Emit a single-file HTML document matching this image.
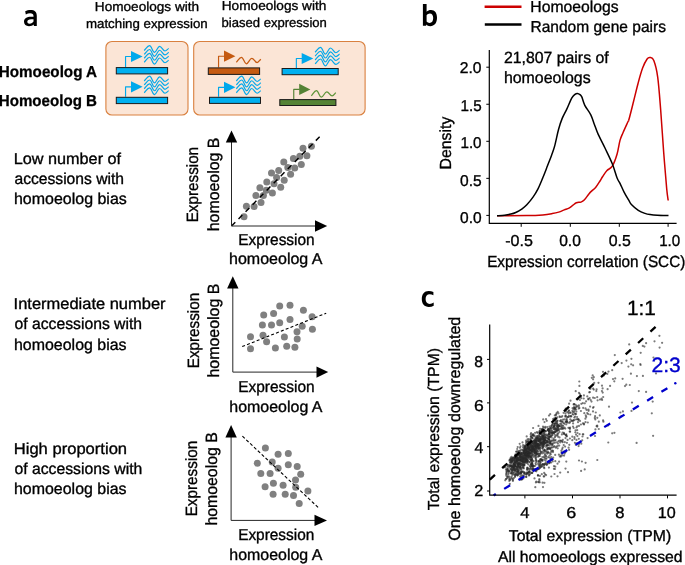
<!DOCTYPE html>
<html><head><meta charset="utf-8"><style>
html,body{margin:0;padding:0;background:#fff;width:685px;height:565px;overflow:hidden}
svg{display:block;will-change:transform}
text{font-family:"Liberation Sans",sans-serif;text-rendering:geometricPrecision}
</style></head><body>
<svg width="685" height="565" viewBox="0 0 685 565">
<rect width="685" height="565" fill="#fff"/>
<path fill="#000" fill-rule="evenodd" d="M25.2,11.3 C26.8,10.4 28.6,10.0 30.4,10.0 C34.7,10.0 36.8,11.9 36.8,15.8 L36.8,26.0 L33.9,26.0 L33.7,24.5 C32.6,25.6 31.0,26.2 29.0,26.2 C25.9,26.2 24.0,24.5 24.0,21.8 C24.0,18.4 26.8,16.8 31.0,16.8 L33.5,16.8 L33.5,16.1 C33.5,14.1 32.4,13.2 30.1,13.2 C28.6,13.2 27.2,13.6 25.8,14.4 Z M33.5,19.2 L31.3,19.2 C28.6,19.2 27.3,20.2 27.3,21.7 C27.3,23.0 28.2,23.7 29.6,23.7 C31.4,23.7 32.8,22.8 33.5,21.6 Z"/>
<text x="94.89" y="10.50" font-size="13.0" textLength="104.20" lengthAdjust="spacingAndGlyphs" fill="#000" stroke="#000" stroke-width="0.34">Homoeologs with</text>
<text x="86.02" y="27.70" font-size="13.0" textLength="121.64" lengthAdjust="spacingAndGlyphs" fill="#000" stroke="#000" stroke-width="0.34">matching expression</text>
<text x="221.78" y="9.80" font-size="13.0" textLength="104.60" lengthAdjust="spacingAndGlyphs" fill="#000" stroke="#000" stroke-width="0.34">Homoeologs with</text>
<text x="221.56" y="26.60" font-size="13.0" textLength="105.29" lengthAdjust="spacingAndGlyphs" fill="#000" stroke="#000" stroke-width="0.34">biased expression</text>
<text x="-1.21" y="76.50" font-size="15.9" textLength="98.31" lengthAdjust="spacingAndGlyphs" fill="#000" font-weight="bold" stroke="#000" stroke-width="0.3">Homoeolog A</text>
<text x="-1.21" y="105.60" font-size="15.9" textLength="98.20" lengthAdjust="spacingAndGlyphs" fill="#000" font-weight="bold" stroke="#000" stroke-width="0.3">Homoeolog B</text>
<rect x="105.9" y="41.5" width="82.1" height="73.5" rx="6" fill="#FBE5D6" stroke="#D9803F" stroke-width="1.1"/>
<rect x="193.7" y="41.5" width="171.4" height="73.5" rx="6" fill="#FBE5D6" stroke="#D9803F" stroke-width="1.1"/>
<path d="M125.55,67.10 V56.50 H131.50" fill="none" stroke="#00A8EB" stroke-width="1.15" stroke-linejoin="round"/>
<path d="M131.00,50.90 L142.60,56.50 L131.00,62.10 Z" fill="#00A8EB"/>
<path d="M144.20,50.50 C145.82,49.03 147.44,45.60 149.60,45.60 C151.56,45.60 152.54,52.40 154.50,52.40 C156.54,52.40 157.56,46.30 159.60,46.30 C161.76,46.30 162.84,51.00 165.00,51.00 C166.48,51.00 167.59,49.18 168.70,48.40" fill="none" stroke="#00A8EB" stroke-width="1.15"/>
<path d="M144.20,54.40 C145.82,52.93 147.44,49.50 149.60,49.50 C151.56,49.50 152.54,56.30 154.50,56.30 C156.54,56.30 157.56,50.20 159.60,50.20 C161.76,50.20 162.84,54.90 165.00,54.90 C166.48,54.90 167.59,53.08 168.70,52.30" fill="none" stroke="#00A8EB" stroke-width="1.15"/>
<path d="M144.20,58.30 C145.82,56.83 147.44,53.40 149.60,53.40 C151.56,53.40 152.54,60.20 154.50,60.20 C156.54,60.20 157.56,54.10 159.60,54.10 C161.76,54.10 162.84,58.80 165.00,58.80 C166.48,58.80 167.59,56.98 168.70,56.20" fill="none" stroke="#00A8EB" stroke-width="1.15"/>
<path d="M144.20,62.20 C145.82,60.73 147.44,57.30 149.60,57.30 C151.56,57.30 152.54,64.10 154.50,64.10 C156.54,64.10 157.56,58.00 159.60,58.00 C161.76,58.00 162.84,62.70 165.00,62.70 C166.48,62.70 167.59,60.88 168.70,60.10" fill="none" stroke="#00A8EB" stroke-width="1.15"/>
<rect x="116.30" y="67.60" width="51.30" height="6.30" fill="#00B0F0" stroke="#1a1a1a" stroke-width="1"/>
<path d="M125.55,96.80 V86.80 H131.50" fill="none" stroke="#00A8EB" stroke-width="1.15" stroke-linejoin="round"/>
<path d="M131.00,81.20 L142.60,86.80 L131.00,92.40 Z" fill="#00A8EB"/>
<path d="M144.20,81.00 C145.82,79.53 147.44,76.10 149.60,76.10 C151.56,76.10 152.54,82.90 154.50,82.90 C156.54,82.90 157.56,76.80 159.60,76.80 C161.76,76.80 162.84,81.50 165.00,81.50 C166.48,81.50 167.59,79.68 168.70,78.90" fill="none" stroke="#00A8EB" stroke-width="1.15"/>
<path d="M144.20,84.90 C145.82,83.43 147.44,80.00 149.60,80.00 C151.56,80.00 152.54,86.80 154.50,86.80 C156.54,86.80 157.56,80.70 159.60,80.70 C161.76,80.70 162.84,85.40 165.00,85.40 C166.48,85.40 167.59,83.58 168.70,82.80" fill="none" stroke="#00A8EB" stroke-width="1.15"/>
<path d="M144.20,88.80 C145.82,87.33 147.44,83.90 149.60,83.90 C151.56,83.90 152.54,90.70 154.50,90.70 C156.54,90.70 157.56,84.60 159.60,84.60 C161.76,84.60 162.84,89.30 165.00,89.30 C166.48,89.30 167.59,87.48 168.70,86.70" fill="none" stroke="#00A8EB" stroke-width="1.15"/>
<path d="M144.20,92.70 C145.82,91.23 147.44,87.80 149.60,87.80 C151.56,87.80 152.54,94.60 154.50,94.60 C156.54,94.60 157.56,88.50 159.60,88.50 C161.76,88.50 162.84,93.20 165.00,93.20 C166.48,93.20 167.59,91.38 168.70,90.60" fill="none" stroke="#00A8EB" stroke-width="1.15"/>
<rect x="116.30" y="97.30" width="51.30" height="6.30" fill="#00B0F0" stroke="#1a1a1a" stroke-width="1"/>
<path d="M218.55,67.40 V56.20 H224.50" fill="none" stroke="#C55A11" stroke-width="1.15" stroke-linejoin="round"/>
<path d="M224.00,50.60 L235.40,56.20 L224.00,61.80 Z" fill="#C55A11"/>
<path d="M236.30,62.30 C237.86,60.80 239.42,57.30 241.50,57.30 C243.42,57.30 244.38,63.80 246.30,63.80 C248.50,63.80 249.60,58.40 251.80,58.40 C253.92,58.40 254.98,62.50 257.10,62.50 C258.58,62.50 259.69,60.19 260.80,59.20" fill="none" stroke="#C55A11" stroke-width="1.25"/>
<rect x="208.30" y="67.90" width="51.30" height="6.50" fill="#C55A11" stroke="#1a1a1a" stroke-width="1"/>
<path d="M218.55,96.80 V87.30 H224.50" fill="none" stroke="#00A8EB" stroke-width="1.15" stroke-linejoin="round"/>
<path d="M224.00,81.70 L235.40,87.30 L224.00,92.90 Z" fill="#00A8EB"/>
<path d="M236.30,81.00 C237.92,79.53 239.54,76.10 241.70,76.10 C243.66,76.10 244.64,82.90 246.60,82.90 C248.64,82.90 249.66,76.80 251.70,76.80 C253.86,76.80 254.94,81.50 257.10,81.50 C258.58,81.50 259.69,79.68 260.80,78.90" fill="none" stroke="#00A8EB" stroke-width="1.15"/>
<path d="M236.30,84.90 C237.92,83.43 239.54,80.00 241.70,80.00 C243.66,80.00 244.64,86.80 246.60,86.80 C248.64,86.80 249.66,80.70 251.70,80.70 C253.86,80.70 254.94,85.40 257.10,85.40 C258.58,85.40 259.69,83.58 260.80,82.80" fill="none" stroke="#00A8EB" stroke-width="1.15"/>
<path d="M236.30,88.80 C237.92,87.33 239.54,83.90 241.70,83.90 C243.66,83.90 244.64,90.70 246.60,90.70 C248.64,90.70 249.66,84.60 251.70,84.60 C253.86,84.60 254.94,89.30 257.10,89.30 C258.58,89.30 259.69,87.48 260.80,86.70" fill="none" stroke="#00A8EB" stroke-width="1.15"/>
<path d="M236.30,92.70 C237.92,91.23 239.54,87.80 241.70,87.80 C243.66,87.80 244.64,94.60 246.60,94.60 C248.64,94.60 249.66,88.50 251.70,88.50 C253.86,88.50 254.94,93.20 257.10,93.20 C258.58,93.20 259.69,91.38 260.80,90.60" fill="none" stroke="#00A8EB" stroke-width="1.15"/>
<rect x="209.50" y="97.30" width="51.00" height="6.10" fill="#00B0F0" stroke="#1a1a1a" stroke-width="1"/>
<path d="M296.35,68.00 V58.50 H302.20" fill="none" stroke="#00A8EB" stroke-width="1.15" stroke-linejoin="round"/>
<path d="M301.70,52.90 L313.30,58.50 L301.70,64.10 Z" fill="#00A8EB"/>
<path d="M315.10,52.20 C316.72,50.73 318.34,47.30 320.50,47.30 C322.46,47.30 323.44,54.10 325.40,54.10 C327.44,54.10 328.46,48.00 330.50,48.00 C332.66,48.00 333.74,52.70 335.90,52.70 C337.38,52.70 338.49,50.88 339.60,50.10" fill="none" stroke="#00A8EB" stroke-width="1.15"/>
<path d="M315.10,56.10 C316.72,54.63 318.34,51.20 320.50,51.20 C322.46,51.20 323.44,58.00 325.40,58.00 C327.44,58.00 328.46,51.90 330.50,51.90 C332.66,51.90 333.74,56.60 335.90,56.60 C337.38,56.60 338.49,54.78 339.60,54.00" fill="none" stroke="#00A8EB" stroke-width="1.15"/>
<path d="M315.10,60.00 C316.72,58.53 318.34,55.10 320.50,55.10 C322.46,55.10 323.44,61.90 325.40,61.90 C327.44,61.90 328.46,55.80 330.50,55.80 C332.66,55.80 333.74,60.50 335.90,60.50 C337.38,60.50 338.49,58.68 339.60,57.90" fill="none" stroke="#00A8EB" stroke-width="1.15"/>
<path d="M315.10,63.90 C316.72,62.43 318.34,59.00 320.50,59.00 C322.46,59.00 323.44,65.80 325.40,65.80 C327.44,65.80 328.46,59.70 330.50,59.70 C332.66,59.70 333.74,64.40 335.90,64.40 C337.38,64.40 338.49,62.58 339.60,61.80" fill="none" stroke="#00A8EB" stroke-width="1.15"/>
<rect x="282.10" y="68.50" width="56.10" height="6.20" fill="#00B0F0" stroke="#1a1a1a" stroke-width="1"/>
<path d="M293.75,99.10 V89.40 H299.70" fill="none" stroke="#548235" stroke-width="1.15" stroke-linejoin="round"/>
<path d="M299.20,83.80 L310.40,89.40 L299.20,95.00 Z" fill="#548235"/>
<path d="M311.30,95.70 C312.86,94.20 314.42,90.70 316.50,90.70 C318.42,90.70 319.38,97.20 321.30,97.20 C323.50,97.20 324.60,91.80 326.80,91.80 C328.92,91.80 329.98,95.90 332.10,95.90 C333.58,95.90 334.69,93.59 335.80,92.60" fill="none" stroke="#5E9438" stroke-width="1.25"/>
<rect x="279.80" y="99.60" width="56.10" height="5.90" fill="#548235" stroke="#1a1a1a" stroke-width="1"/>
<text x="13.77" y="164.20" font-size="15.8" textLength="107.31" lengthAdjust="spacingAndGlyphs" fill="#000" stroke="#000" stroke-width="0.34">Low number of</text>
<text x="14.44" y="184.00" font-size="15.8" textLength="109.58" lengthAdjust="spacingAndGlyphs" fill="#000" stroke="#000" stroke-width="0.34">accessions with</text>
<text x="13.99" y="203.90" font-size="15.8" textLength="112.78" lengthAdjust="spacingAndGlyphs" fill="#000" stroke="#000" stroke-width="0.34">homoeolog bias</text>
<text x="13.58" y="309.00" font-size="15.8" textLength="151.99" lengthAdjust="spacingAndGlyphs" fill="#000" stroke="#000" stroke-width="0.34">Intermediate number</text>
<text x="14.44" y="329.40" font-size="15.8" textLength="127.68" lengthAdjust="spacingAndGlyphs" fill="#000" stroke="#000" stroke-width="0.34">of accessions with</text>
<text x="13.99" y="349.60" font-size="15.8" textLength="112.58" lengthAdjust="spacingAndGlyphs" fill="#000" stroke="#000" stroke-width="0.34">homoeolog bias</text>
<text x="13.74" y="453.50" font-size="15.8" textLength="113.34" lengthAdjust="spacingAndGlyphs" fill="#000" stroke="#000" stroke-width="0.34">High proportion</text>
<text x="14.44" y="473.60" font-size="15.8" textLength="127.89" lengthAdjust="spacingAndGlyphs" fill="#000" stroke="#000" stroke-width="0.34">of accessions with</text>
<text x="13.99" y="494.10" font-size="15.8" textLength="112.58" lengthAdjust="spacingAndGlyphs" fill="#000" stroke="#000" stroke-width="0.34">homoeolog bias</text>
<g fill="#808080"><circle cx="244" cy="216.8" r="3.5"/><circle cx="246.4" cy="206.2" r="3.5"/><circle cx="254.1" cy="206.6" r="3.5"/><circle cx="261" cy="202.4" r="3.5"/><circle cx="255.9" cy="195.4" r="3.5"/><circle cx="263.4" cy="195.4" r="3.5"/><circle cx="259.9" cy="187.8" r="3.5"/><circle cx="266.8" cy="182" r="3.5"/><circle cx="266.3" cy="190.3" r="3.5"/><circle cx="272.4" cy="193.1" r="3.5"/><circle cx="274" cy="183.8" r="3.5"/><circle cx="280.7" cy="187.3" r="3.5"/><circle cx="284.2" cy="180.2" r="3.5"/><circle cx="276.6" cy="177.5" r="3.5"/><circle cx="271.5" cy="173" r="3.5"/><circle cx="278.7" cy="170.6" r="3.5"/><circle cx="283.8" cy="162.1" r="3.5"/><circle cx="287.8" cy="167.4" r="3.5"/><circle cx="294.7" cy="168.1" r="3.5"/><circle cx="290.6" cy="174.3" r="3.5"/><circle cx="301.3" cy="164.5" r="3.5"/><circle cx="293.4" cy="158.6" r="3.5"/><circle cx="299.8" cy="156.2" r="3.5"/><circle cx="306.9" cy="155.7" r="3.5"/><circle cx="303" cy="148.3" r="3.5"/><circle cx="311.4" cy="146.2" r="3.5"/></g>
<path d="M231.5,226.0 L320.9,135.5" stroke="#000" stroke-width="1.45" stroke-dasharray="5.4 4.6" fill="none"/>
<path d="M231.50,226.00 V141.90 M231.50,226.00 H315.50" fill="none" stroke="#262626" stroke-width="1"/>
<path d="M225.80,142.40 L231.50,130.60 L237.20,142.40 Z" fill="#000"/>
<path d="M315.00,220.30 L327.20,226.00 L315.00,231.70 Z" fill="#000"/>
<g fill="#808080"><circle cx="279.7" cy="305.9" r="3.5"/><circle cx="290" cy="305.3" r="3.5"/><circle cx="303.4" cy="310.2" r="3.5"/><circle cx="263.7" cy="315.1" r="3.5"/><circle cx="273.6" cy="313.5" r="3.5"/><circle cx="290" cy="319.5" r="3.5"/><circle cx="312.1" cy="316.8" r="3.5"/><circle cx="262.4" cy="325.1" r="3.5"/><circle cx="271.5" cy="325.1" r="3.5"/><circle cx="279.7" cy="322.8" r="3.5"/><circle cx="302.2" cy="326.3" r="3.5"/><circle cx="312.4" cy="329.2" r="3.5"/><circle cx="297" cy="331.8" r="3.5"/><circle cx="250.5" cy="336.8" r="3.5"/><circle cx="263" cy="335.3" r="3.5"/><circle cx="284.4" cy="337" r="3.5"/><circle cx="297.2" cy="339.1" r="3.5"/><circle cx="266.6" cy="341.7" r="3.5"/><circle cx="250.5" cy="348.7" r="3.5"/><circle cx="275.4" cy="348.1" r="3.5"/><circle cx="286.7" cy="346.2" r="3.5"/><circle cx="294.9" cy="347.2" r="3.5"/></g>
<path d="M242.2,346.6 L326.2,313.2" stroke="#000" stroke-width="1.1" stroke-dasharray="3.0 2.2" fill="none"/>
<path d="M232.80,372.10 V288.00 M232.80,372.10 H317.00" fill="none" stroke="#262626" stroke-width="1"/>
<path d="M227.10,288.50 L232.80,276.20 L238.50,288.50 Z" fill="#000"/>
<path d="M316.50,366.40 L328.20,372.10 L316.50,377.80 Z" fill="#000"/>
<g fill="#808080"><circle cx="265.4" cy="448" r="3.5"/><circle cx="278.1" cy="454.2" r="3.5"/><circle cx="288.3" cy="453.6" r="3.5"/><circle cx="257.3" cy="463.3" r="3.5"/><circle cx="272.2" cy="462" r="3.5"/><circle cx="288.3" cy="464.8" r="3.5"/><circle cx="297.2" cy="466.6" r="3.5"/><circle cx="278.1" cy="468.2" r="3.5"/><circle cx="260.8" cy="473.4" r="3.5"/><circle cx="270.1" cy="473.4" r="3.5"/><circle cx="300.7" cy="474.3" r="3.5"/><circle cx="295.5" cy="480" r="3.5"/><circle cx="273.4" cy="483.3" r="3.5"/><circle cx="265.1" cy="486.8" r="3.5"/><circle cx="283.1" cy="485.2" r="3.5"/><circle cx="295.7" cy="487.3" r="3.5"/><circle cx="307.9" cy="491.1" r="3.5"/><circle cx="273.1" cy="494.2" r="3.5"/><circle cx="285.2" cy="494.2" r="3.5"/><circle cx="293.5" cy="495.4" r="3.5"/><circle cx="299.2" cy="503.4" r="3.5"/></g>
<path d="M242.4,436.2 L318.3,507.6" stroke="#000" stroke-width="1.1" stroke-dasharray="3.2 2.1" fill="none"/>
<path d="M231.10,520.40 V436.90 M231.10,520.40 H315.00" fill="none" stroke="#262626" stroke-width="1"/>
<path d="M225.40,437.40 L231.10,425.10 L236.80,437.40 Z" fill="#000"/>
<path d="M314.50,514.70 L327.00,520.40 L314.50,526.10 Z" fill="#000"/>
<text x="238.33" y="244.75" font-size="15.8" textLength="76.37" lengthAdjust="spacingAndGlyphs" fill="#000" stroke="#000" stroke-width="0.34">Expression</text>
<text x="229.00" y="264.40" font-size="15.8" textLength="93.53" lengthAdjust="spacingAndGlyphs" fill="#000" stroke="#000" stroke-width="0.34">homoeolog A</text>
<text transform="translate(198.20,222.30) rotate(-90)" x="0" y="0" font-size="16.3" textLength="75.39" lengthAdjust="spacingAndGlyphs" fill="#000" stroke="#000" stroke-width="0.34">Expression</text>
<text transform="translate(219.00,231.30) rotate(-90)" x="0" y="0" font-size="16.3" textLength="93.74" lengthAdjust="spacingAndGlyphs" fill="#000" stroke="#000" stroke-width="0.34">homoeolog B</text>
<text x="238.13" y="391.60" font-size="15.8" textLength="76.58" lengthAdjust="spacingAndGlyphs" fill="#000" stroke="#000" stroke-width="0.34">Expression</text>
<text x="229.30" y="411.60" font-size="15.8" textLength="93.23" lengthAdjust="spacingAndGlyphs" fill="#000" stroke="#000" stroke-width="0.34">homoeolog A</text>
<text transform="translate(198.70,368.15) rotate(-90)" x="0" y="0" font-size="16.3" textLength="75.24" lengthAdjust="spacingAndGlyphs" fill="#000" stroke="#000" stroke-width="0.34">Expression</text>
<text transform="translate(219.00,377.61) rotate(-90)" x="0" y="0" font-size="16.3" textLength="94.05" lengthAdjust="spacingAndGlyphs" fill="#000" stroke="#000" stroke-width="0.34">homoeolog B</text>
<text x="238.14" y="540.30" font-size="15.8" textLength="76.16" lengthAdjust="spacingAndGlyphs" fill="#000" stroke="#000" stroke-width="0.34">Expression</text>
<text x="229.31" y="560.00" font-size="15.8" textLength="93.03" lengthAdjust="spacingAndGlyphs" fill="#000" stroke="#000" stroke-width="0.34">homoeolog A</text>
<text transform="translate(197.00,516.35) rotate(-90)" x="0" y="0" font-size="16.3" textLength="75.65" lengthAdjust="spacingAndGlyphs" fill="#000" stroke="#000" stroke-width="0.34">Expression</text>
<text transform="translate(217.00,525.50) rotate(-90)" x="0" y="0" font-size="16.3" textLength="93.23" lengthAdjust="spacingAndGlyphs" fill="#000" stroke="#000" stroke-width="0.34">homoeolog B</text>
<path fill="#000" fill-rule="evenodd" d="M422.9,4.0 L426.6,4.0 L426.6,11.8 C427.7,10.6 429.2,10.0 431.0,10.0 C434.9,10.0 437.0,13.0 437.0,17.8 C437.0,23.0 434.4,26.2 430.2,26.2 C428.5,26.2 427.2,25.6 426.3,24.6 L426.1,25.8 L422.9,25.8 Z M426.6,15.2 C427.4,14.1 428.5,13.4 429.8,13.4 C432.0,13.4 433.2,15.1 433.2,18.0 C433.2,21.2 431.8,22.9 429.6,22.9 C428.3,22.9 427.3,22.4 426.6,21.6 Z"/>
<path d="M484.6,6.8 H521.5" stroke="#CC0000" stroke-width="2.6"/>
<path d="M484.8,24.5 H521.5" stroke="#000" stroke-width="2.6"/>
<text x="530.31" y="11.80" font-size="15.9" textLength="88.26" lengthAdjust="spacingAndGlyphs" fill="#000" stroke="#000" stroke-width="0.34">Homoeologs</text>
<text x="530.43" y="31.90" font-size="15.9" textLength="135.54" lengthAdjust="spacingAndGlyphs" fill="#000" stroke="#000" stroke-width="0.34">Random gene pairs</text>
<text x="503.90" y="62.80" font-size="16.2" textLength="104.77" lengthAdjust="spacingAndGlyphs" fill="#000" stroke="#000" stroke-width="0.34">21,807 pairs of</text>
<text x="503.90" y="82.50" font-size="16.2" textLength="86.78" lengthAdjust="spacingAndGlyphs" fill="#000" stroke="#000" stroke-width="0.34">homoeologs</text>
<path d="M489.3,50 V223.4 H676.6" fill="none" stroke="#000" stroke-width="1.2"/>
<path d="M486.3,215.4 H489.3" stroke="#000" stroke-width="1"/>
<text x="459.99" y="223.10" font-size="15.7" textLength="21.61" lengthAdjust="spacingAndGlyphs" fill="#000" stroke="#000" stroke-width="0.34">0.0</text>
<path d="M486.3,178.35 H489.3" stroke="#000" stroke-width="1"/>
<text x="459.99" y="185.70" font-size="15.7" textLength="21.66" lengthAdjust="spacingAndGlyphs" fill="#000" stroke="#000" stroke-width="0.34">0.5</text>
<path d="M486.3,141.3 H489.3" stroke="#000" stroke-width="1"/>
<text x="460.44" y="148.10" font-size="15.7" textLength="21.15" lengthAdjust="spacingAndGlyphs" fill="#000" stroke="#000" stroke-width="0.34">1.0</text>
<path d="M486.3,104.25 H489.3" stroke="#000" stroke-width="1"/>
<text x="460.44" y="110.50" font-size="15.7" textLength="21.20" lengthAdjust="spacingAndGlyphs" fill="#000" stroke="#000" stroke-width="0.34">1.5</text>
<path d="M486.3,67.2 H489.3" stroke="#000" stroke-width="1"/>
<text x="459.81" y="72.90" font-size="15.7" textLength="21.80" lengthAdjust="spacingAndGlyphs" fill="#000" stroke="#000" stroke-width="0.34">2.0</text>
<path d="M521.2,223.4 V226.8" stroke="#000" stroke-width="1"/>
<text x="505.19" y="245.60" font-size="15.9" textLength="27.69" lengthAdjust="spacingAndGlyphs" fill="#000" stroke="#000" stroke-width="0.34">-0.5</text>
<path d="M570.3,223.4 V226.8" stroke="#000" stroke-width="1"/>
<text x="559.19" y="245.60" font-size="15.9" textLength="21.61" lengthAdjust="spacingAndGlyphs" fill="#000" stroke="#000" stroke-width="0.34">0.0</text>
<path d="M619.3,223.4 V226.8" stroke="#000" stroke-width="1"/>
<text x="608.68" y="245.60" font-size="15.9" textLength="22.09" lengthAdjust="spacingAndGlyphs" fill="#000" stroke="#000" stroke-width="0.34">0.5</text>
<path d="M668.1,223.4 V226.8" stroke="#000" stroke-width="1"/>
<text x="659.15" y="245.60" font-size="15.9" textLength="21.04" lengthAdjust="spacingAndGlyphs" fill="#000" stroke="#000" stroke-width="0.34">1.0</text>
<text transform="translate(451.30,169.40) rotate(-90)" x="0" y="0" font-size="16.1" textLength="52.73" lengthAdjust="spacingAndGlyphs" fill="#000" stroke="#000" stroke-width="0.34">Density</text>
<text x="487.14" y="267.00" font-size="16.1" textLength="198.20" lengthAdjust="spacingAndGlyphs" fill="#000" stroke="#000" stroke-width="0.34">Expression correlation (SCC)</text>
<path d="M497.00,215.70 C501.97,215.68 519.17,215.73 526.80,215.60 C534.43,215.47 538.55,215.23 542.80,214.90 C547.05,214.57 549.65,214.07 552.30,213.60 C554.95,213.13 556.70,212.72 558.70,212.10 C560.70,211.48 562.58,210.57 564.30,209.90 C566.02,209.23 567.55,208.88 569.00,208.10 C570.45,207.32 571.77,206.10 573.00,205.20 C574.23,204.30 575.07,203.22 576.40,202.70 C577.73,202.18 579.70,202.53 581.00,202.10 C582.30,201.67 582.88,201.47 584.20,200.10 C585.52,198.73 587.58,195.48 588.90,193.90 C590.22,192.32 590.98,191.65 592.10,190.60 C593.22,189.55 594.28,189.20 595.60,187.60 C596.92,186.00 598.82,182.85 600.00,181.00 C601.18,179.15 601.53,178.25 602.70,176.50 C603.87,174.75 605.40,172.22 607.00,170.50 C608.60,168.78 610.62,168.95 612.30,166.20 C613.98,163.45 615.82,158.30 617.10,154.00 C618.38,149.70 619.02,143.95 620.00,140.40 C620.98,136.85 621.70,135.77 623.00,132.70 C624.30,129.63 626.80,124.23 627.80,122.00 C628.80,119.77 628.03,122.75 629.00,119.30 C629.97,115.85 632.08,107.32 633.60,101.30 C635.12,95.28 636.60,88.73 638.10,83.20 C639.60,77.67 641.10,72.13 642.60,68.10 C644.10,64.07 645.85,60.77 647.10,59.00 C648.35,57.23 648.98,57.23 650.10,57.50 C651.22,57.77 652.53,57.33 653.80,60.60 C655.07,63.87 656.55,68.82 657.70,77.10 C658.85,85.38 659.70,97.73 660.70,110.30 C661.70,122.87 662.70,139.43 663.70,152.50 C664.70,165.57 665.95,180.70 666.70,188.70 C667.45,196.70 667.95,198.53 668.20,200.50" fill="none" stroke="#CC0000" stroke-width="1.5" stroke-linejoin="round"/>
<path d="M497.00,215.70 C498.27,215.62 502.28,215.47 504.60,215.20 C506.92,214.93 509.05,214.55 510.90,214.10 C512.75,213.65 513.83,213.38 515.70,212.50 C517.57,211.62 520.25,210.08 522.10,208.80 C523.95,207.52 524.95,206.78 526.80,204.80 C528.65,202.82 531.33,199.55 533.20,196.90 C535.07,194.25 536.40,192.08 538.00,188.90 C539.60,185.72 541.22,181.65 542.80,177.80 C544.38,173.95 546.05,169.52 547.50,165.80 C548.95,162.08 550.30,158.82 551.50,155.50 C552.70,152.18 553.52,150.28 554.70,145.90 C555.88,141.52 557.35,133.78 558.60,129.20 C559.85,124.62 560.82,121.78 562.20,118.40 C563.58,115.02 565.32,112.28 566.90,108.90 C568.48,105.52 570.35,100.53 571.70,98.10 C573.05,95.67 574.05,95.08 575.00,94.30 C575.95,93.52 576.57,93.35 577.40,93.40 C578.23,93.45 579.27,94.02 580.00,94.60 C580.73,95.18 581.00,95.12 581.80,96.90 C582.60,98.68 583.30,102.32 584.80,105.30 C586.30,108.28 589.20,111.62 590.80,114.80 C592.40,117.98 593.20,121.22 594.40,124.40 C595.60,127.58 596.22,129.92 598.00,133.90 C599.78,137.88 602.72,143.32 605.10,148.30 C607.48,153.28 610.30,158.83 612.30,163.80 C614.30,168.77 615.82,174.85 617.10,178.10 C618.38,181.35 618.82,180.92 620.00,183.30 C621.18,185.68 622.70,189.50 624.20,192.40 C625.70,195.30 627.80,198.70 629.00,200.70 C630.20,202.70 629.85,202.80 631.40,204.40 C632.95,206.00 636.03,208.80 638.30,210.30 C640.57,211.80 643.03,212.68 645.00,213.40 C646.97,214.12 648.03,214.28 650.10,214.60 C652.17,214.92 654.33,215.13 657.40,215.30 C660.47,215.47 666.65,215.55 668.50,215.60" fill="none" stroke="#000" stroke-width="1.5" stroke-linejoin="round"/>
<path fill="#000" d="M433.4,292.0 C432.0,291.4 430.4,291.1 428.7,291.1 C424.3,291.1 421.8,294.2 421.8,299.1 C421.8,304.0 424.4,307.0 428.8,307.0 C430.6,307.0 432.2,306.6 433.7,305.8 L433.7,302.6 C432.5,303.4 431.2,303.9 429.7,303.9 C427.1,303.9 425.6,302.0 425.6,299.0 C425.6,296.0 427.1,294.2 429.6,294.2 C431.0,294.2 432.3,294.6 433.4,295.3 Z"/>
<g fill="#2a2a2a" fill-opacity="0.62"><circle cx="532.0" cy="459.6" r="1.1"/><circle cx="536.6" cy="453.2" r="1.1"/><circle cx="550.2" cy="432.6" r="1.1"/><circle cx="544.3" cy="464.4" r="1.1"/><circle cx="554.3" cy="418.3" r="1.1"/><circle cx="533.5" cy="456.8" r="1.1"/><circle cx="548.0" cy="448.2" r="1.1"/><circle cx="549.2" cy="431.7" r="1.1"/><circle cx="528.2" cy="464.3" r="1.1"/><circle cx="564.1" cy="455.6" r="1.1"/><circle cx="579.0" cy="460.5" r="1.1"/><circle cx="509.4" cy="476.5" r="1.1"/><circle cx="548.6" cy="430.9" r="1.1"/><circle cx="552.2" cy="445.6" r="1.1"/><circle cx="509.3" cy="465.4" r="1.1"/><circle cx="542.5" cy="436.9" r="1.1"/><circle cx="503.9" cy="467.3" r="1.1"/><circle cx="516.0" cy="475.0" r="1.1"/><circle cx="510.5" cy="466.0" r="1.1"/><circle cx="511.7" cy="462.4" r="1.1"/><circle cx="542.5" cy="430.0" r="1.1"/><circle cx="563.7" cy="422.9" r="1.1"/><circle cx="555.6" cy="428.5" r="1.1"/><circle cx="595.3" cy="419.4" r="1.1"/><circle cx="566.9" cy="442.8" r="1.1"/><circle cx="581.2" cy="398.2" r="1.1"/><circle cx="519.5" cy="457.2" r="1.1"/><circle cx="542.4" cy="460.9" r="1.1"/><circle cx="533.8" cy="435.9" r="1.1"/><circle cx="525.8" cy="461.1" r="1.1"/><circle cx="557.7" cy="411.9" r="1.1"/><circle cx="547.2" cy="453.7" r="1.1"/><circle cx="543.1" cy="442.2" r="1.1"/><circle cx="597.3" cy="417.8" r="1.1"/><circle cx="568.9" cy="415.9" r="1.1"/><circle cx="543.9" cy="446.1" r="1.1"/><circle cx="522.8" cy="467.0" r="1.1"/><circle cx="544.0" cy="442.2" r="1.1"/><circle cx="553.9" cy="426.4" r="1.1"/><circle cx="518.2" cy="452.8" r="1.1"/><circle cx="548.3" cy="452.6" r="1.1"/><circle cx="544.5" cy="422.1" r="1.1"/><circle cx="567.6" cy="439.9" r="1.1"/><circle cx="516.1" cy="460.2" r="1.1"/><circle cx="526.9" cy="452.2" r="1.1"/><circle cx="528.1" cy="446.1" r="1.1"/><circle cx="534.0" cy="444.1" r="1.1"/><circle cx="559.2" cy="425.9" r="1.1"/><circle cx="517.2" cy="457.8" r="1.1"/><circle cx="545.8" cy="442.9" r="1.1"/><circle cx="545.6" cy="440.6" r="1.1"/><circle cx="532.4" cy="447.8" r="1.1"/><circle cx="554.9" cy="431.9" r="1.1"/><circle cx="520.6" cy="478.3" r="1.1"/><circle cx="517.0" cy="458.2" r="1.1"/><circle cx="526.4" cy="453.9" r="1.1"/><circle cx="583.3" cy="434.3" r="1.1"/><circle cx="622.6" cy="378.8" r="1.1"/><circle cx="543.2" cy="430.9" r="1.1"/><circle cx="530.1" cy="459.6" r="1.1"/><circle cx="535.4" cy="469.9" r="1.1"/><circle cx="552.2" cy="434.4" r="1.1"/><circle cx="550.8" cy="444.0" r="1.1"/><circle cx="608.3" cy="442.5" r="1.1"/><circle cx="518.8" cy="459.4" r="1.1"/><circle cx="568.7" cy="416.9" r="1.1"/><circle cx="539.3" cy="432.2" r="1.1"/><circle cx="597.2" cy="425.5" r="1.1"/><circle cx="538.7" cy="469.1" r="1.1"/><circle cx="595.8" cy="412.5" r="1.1"/><circle cx="572.5" cy="414.1" r="1.1"/><circle cx="538.5" cy="468.9" r="1.1"/><circle cx="522.3" cy="457.5" r="1.1"/><circle cx="524.4" cy="464.8" r="1.1"/><circle cx="528.2" cy="448.6" r="1.1"/><circle cx="513.5" cy="467.7" r="1.1"/><circle cx="515.2" cy="455.3" r="1.1"/><circle cx="517.7" cy="463.7" r="1.1"/><circle cx="537.2" cy="437.6" r="1.1"/><circle cx="552.3" cy="430.5" r="1.1"/><circle cx="579.4" cy="408.0" r="1.1"/><circle cx="565.6" cy="435.0" r="1.1"/><circle cx="562.5" cy="455.4" r="1.1"/><circle cx="521.3" cy="473.1" r="1.1"/><circle cx="524.0" cy="461.8" r="1.1"/><circle cx="536.8" cy="448.9" r="1.1"/><circle cx="540.1" cy="464.3" r="1.1"/><circle cx="523.4" cy="450.9" r="1.1"/><circle cx="530.2" cy="442.9" r="1.1"/><circle cx="533.4" cy="446.9" r="1.1"/><circle cx="631.2" cy="364.3" r="1.1"/><circle cx="529.7" cy="447.8" r="1.1"/><circle cx="536.4" cy="445.5" r="1.1"/><circle cx="656.0" cy="373.4" r="1.1"/><circle cx="544.3" cy="468.2" r="1.1"/><circle cx="609.0" cy="406.7" r="1.1"/><circle cx="584.0" cy="424.4" r="1.1"/><circle cx="546.0" cy="430.9" r="1.1"/><circle cx="534.7" cy="451.2" r="1.1"/><circle cx="546.6" cy="445.3" r="1.1"/><circle cx="538.0" cy="475.3" r="1.1"/><circle cx="584.7" cy="469.4" r="1.1"/><circle cx="556.6" cy="435.3" r="1.1"/><circle cx="532.2" cy="449.3" r="1.1"/><circle cx="539.9" cy="475.9" r="1.1"/><circle cx="554.5" cy="425.4" r="1.1"/><circle cx="534.6" cy="446.8" r="1.1"/><circle cx="578.5" cy="419.7" r="1.1"/><circle cx="529.4" cy="458.6" r="1.1"/><circle cx="515.3" cy="462.6" r="1.1"/><circle cx="555.2" cy="431.9" r="1.1"/><circle cx="574.2" cy="404.4" r="1.1"/><circle cx="552.7" cy="444.3" r="1.1"/><circle cx="540.6" cy="453.6" r="1.1"/><circle cx="537.1" cy="443.8" r="1.1"/><circle cx="549.4" cy="439.6" r="1.1"/><circle cx="565.9" cy="451.6" r="1.1"/><circle cx="549.4" cy="436.5" r="1.1"/><circle cx="544.0" cy="440.9" r="1.1"/><circle cx="546.5" cy="458.7" r="1.1"/><circle cx="523.4" cy="476.2" r="1.1"/><circle cx="537.6" cy="450.9" r="1.1"/><circle cx="553.8" cy="447.1" r="1.1"/><circle cx="534.9" cy="445.2" r="1.1"/><circle cx="582.8" cy="434.3" r="1.1"/><circle cx="532.2" cy="462.4" r="1.1"/><circle cx="523.7" cy="452.7" r="1.1"/><circle cx="531.8" cy="460.3" r="1.1"/><circle cx="512.1" cy="465.9" r="1.1"/><circle cx="548.9" cy="439.0" r="1.1"/><circle cx="543.2" cy="439.6" r="1.1"/><circle cx="527.4" cy="461.0" r="1.1"/><circle cx="551.9" cy="433.0" r="1.1"/><circle cx="576.0" cy="434.6" r="1.1"/><circle cx="525.9" cy="451.5" r="1.1"/><circle cx="523.5" cy="462.3" r="1.1"/><circle cx="528.2" cy="447.6" r="1.1"/><circle cx="569.5" cy="428.1" r="1.1"/><circle cx="507.2" cy="477.9" r="1.1"/><circle cx="511.6" cy="469.3" r="1.1"/><circle cx="545.2" cy="426.8" r="1.1"/><circle cx="542.3" cy="445.8" r="1.1"/><circle cx="525.3" cy="462.8" r="1.1"/><circle cx="556.3" cy="414.3" r="1.1"/><circle cx="535.4" cy="449.3" r="1.1"/><circle cx="573.7" cy="420.4" r="1.1"/><circle cx="539.1" cy="455.8" r="1.1"/><circle cx="532.5" cy="442.8" r="1.1"/><circle cx="530.6" cy="450.4" r="1.1"/><circle cx="517.8" cy="465.3" r="1.1"/><circle cx="532.3" cy="472.7" r="1.1"/><circle cx="521.3" cy="464.7" r="1.1"/><circle cx="512.4" cy="475.2" r="1.1"/><circle cx="522.3" cy="455.2" r="1.1"/><circle cx="547.2" cy="441.0" r="1.1"/><circle cx="568.4" cy="412.4" r="1.1"/><circle cx="535.1" cy="432.8" r="1.1"/><circle cx="527.7" cy="468.4" r="1.1"/><circle cx="534.3" cy="450.0" r="1.1"/><circle cx="540.9" cy="443.9" r="1.1"/><circle cx="527.8" cy="461.1" r="1.1"/><circle cx="520.8" cy="456.7" r="1.1"/><circle cx="514.5" cy="462.4" r="1.1"/><circle cx="534.5" cy="478.4" r="1.1"/><circle cx="560.8" cy="440.5" r="1.1"/><circle cx="554.9" cy="440.6" r="1.1"/><circle cx="526.8" cy="454.1" r="1.1"/><circle cx="550.8" cy="459.0" r="1.1"/><circle cx="594.2" cy="382.9" r="1.1"/><circle cx="522.7" cy="461.4" r="1.1"/><circle cx="553.0" cy="450.8" r="1.1"/><circle cx="526.9" cy="454.3" r="1.1"/><circle cx="527.0" cy="469.4" r="1.1"/><circle cx="509.8" cy="459.7" r="1.1"/><circle cx="550.8" cy="459.6" r="1.1"/><circle cx="567.0" cy="421.5" r="1.1"/><circle cx="518.6" cy="473.5" r="1.1"/><circle cx="525.3" cy="454.9" r="1.1"/><circle cx="575.9" cy="419.5" r="1.1"/><circle cx="659.4" cy="335.8" r="1.1"/><circle cx="526.4" cy="460.0" r="1.1"/><circle cx="554.8" cy="420.4" r="1.1"/><circle cx="527.3" cy="473.6" r="1.1"/><circle cx="527.5" cy="452.2" r="1.1"/><circle cx="541.2" cy="438.1" r="1.1"/><circle cx="538.8" cy="465.3" r="1.1"/><circle cx="538.1" cy="463.9" r="1.1"/><circle cx="525.2" cy="461.7" r="1.1"/><circle cx="527.2" cy="455.9" r="1.1"/><circle cx="588.1" cy="414.1" r="1.1"/><circle cx="540.5" cy="459.3" r="1.1"/><circle cx="561.4" cy="423.5" r="1.1"/><circle cx="516.6" cy="456.7" r="1.1"/><circle cx="545.5" cy="440.1" r="1.1"/><circle cx="526.3" cy="476.9" r="1.1"/><circle cx="519.4" cy="457.2" r="1.1"/><circle cx="527.1" cy="456.4" r="1.1"/><circle cx="539.9" cy="468.1" r="1.1"/><circle cx="544.2" cy="472.9" r="1.1"/><circle cx="534.0" cy="451.0" r="1.1"/><circle cx="602.6" cy="388.4" r="1.1"/><circle cx="566.4" cy="435.9" r="1.1"/><circle cx="538.0" cy="448.4" r="1.1"/><circle cx="566.1" cy="421.3" r="1.1"/><circle cx="564.8" cy="442.2" r="1.1"/><circle cx="539.9" cy="456.0" r="1.1"/><circle cx="532.1" cy="437.3" r="1.1"/><circle cx="537.2" cy="439.3" r="1.1"/><circle cx="531.1" cy="433.2" r="1.1"/><circle cx="625.0" cy="386.1" r="1.1"/><circle cx="553.8" cy="439.9" r="1.1"/><circle cx="550.7" cy="428.1" r="1.1"/><circle cx="526.1" cy="443.0" r="1.1"/><circle cx="530.3" cy="473.6" r="1.1"/><circle cx="523.8" cy="451.0" r="1.1"/><circle cx="534.6" cy="452.8" r="1.1"/><circle cx="526.7" cy="436.4" r="1.1"/><circle cx="514.5" cy="474.7" r="1.1"/><circle cx="630.9" cy="373.7" r="1.1"/><circle cx="533.7" cy="461.1" r="1.1"/><circle cx="517.2" cy="458.0" r="1.1"/><circle cx="579.9" cy="400.0" r="1.1"/><circle cx="646.1" cy="391.9" r="1.1"/><circle cx="545.6" cy="462.8" r="1.1"/><circle cx="586.2" cy="416.9" r="1.1"/><circle cx="526.4" cy="474.7" r="1.1"/><circle cx="513.3" cy="464.4" r="1.1"/><circle cx="530.5" cy="440.3" r="1.1"/><circle cx="585.8" cy="415.4" r="1.1"/><circle cx="523.0" cy="464.6" r="1.1"/><circle cx="537.3" cy="453.9" r="1.1"/><circle cx="550.8" cy="454.3" r="1.1"/><circle cx="527.1" cy="453.5" r="1.1"/><circle cx="520.4" cy="460.0" r="1.1"/><circle cx="542.4" cy="448.1" r="1.1"/><circle cx="564.5" cy="427.7" r="1.1"/><circle cx="535.6" cy="445.2" r="1.1"/><circle cx="542.0" cy="460.0" r="1.1"/><circle cx="520.5" cy="446.3" r="1.1"/><circle cx="521.1" cy="473.1" r="1.1"/><circle cx="539.7" cy="463.7" r="1.1"/><circle cx="526.3" cy="453.1" r="1.1"/><circle cx="530.9" cy="446.2" r="1.1"/><circle cx="517.5" cy="475.3" r="1.1"/><circle cx="518.8" cy="458.8" r="1.1"/><circle cx="532.9" cy="434.9" r="1.1"/><circle cx="549.2" cy="433.0" r="1.1"/><circle cx="538.6" cy="435.4" r="1.1"/><circle cx="540.5" cy="442.9" r="1.1"/><circle cx="542.4" cy="443.5" r="1.1"/><circle cx="580.9" cy="424.5" r="1.1"/><circle cx="516.9" cy="459.3" r="1.1"/><circle cx="529.4" cy="470.6" r="1.1"/><circle cx="523.9" cy="458.4" r="1.1"/><circle cx="633.1" cy="365.3" r="1.1"/><circle cx="549.0" cy="430.7" r="1.1"/><circle cx="523.5" cy="458.6" r="1.1"/><circle cx="524.3" cy="448.3" r="1.1"/><circle cx="595.0" cy="436.0" r="1.1"/><circle cx="526.3" cy="454.4" r="1.1"/><circle cx="564.2" cy="433.9" r="1.1"/><circle cx="515.9" cy="457.8" r="1.1"/><circle cx="539.8" cy="439.5" r="1.1"/><circle cx="530.1" cy="450.2" r="1.1"/><circle cx="571.6" cy="420.6" r="1.1"/><circle cx="523.0" cy="467.8" r="1.1"/><circle cx="513.9" cy="464.0" r="1.1"/><circle cx="551.3" cy="476.5" r="1.1"/><circle cx="512.8" cy="461.0" r="1.1"/><circle cx="558.9" cy="454.7" r="1.1"/><circle cx="531.6" cy="441.5" r="1.1"/><circle cx="529.8" cy="449.8" r="1.1"/><circle cx="529.5" cy="445.6" r="1.1"/><circle cx="545.0" cy="440.5" r="1.1"/><circle cx="514.0" cy="467.6" r="1.1"/><circle cx="529.9" cy="443.2" r="1.1"/><circle cx="532.3" cy="453.6" r="1.1"/><circle cx="528.0" cy="454.4" r="1.1"/><circle cx="506.4" cy="478.8" r="1.1"/><circle cx="544.5" cy="450.7" r="1.1"/><circle cx="575.5" cy="430.3" r="1.1"/><circle cx="531.7" cy="447.0" r="1.1"/><circle cx="507.5" cy="476.5" r="1.1"/><circle cx="515.8" cy="471.0" r="1.1"/><circle cx="522.5" cy="442.4" r="1.1"/><circle cx="545.9" cy="442.9" r="1.1"/><circle cx="520.5" cy="465.7" r="1.1"/><circle cx="548.2" cy="429.7" r="1.1"/><circle cx="527.3" cy="467.5" r="1.1"/><circle cx="574.0" cy="407.2" r="1.1"/><circle cx="553.5" cy="443.0" r="1.1"/><circle cx="539.9" cy="442.5" r="1.1"/><circle cx="562.1" cy="421.6" r="1.1"/><circle cx="517.3" cy="454.6" r="1.1"/><circle cx="516.4" cy="467.2" r="1.1"/><circle cx="520.8" cy="469.7" r="1.1"/><circle cx="548.4" cy="452.6" r="1.1"/><circle cx="516.7" cy="460.0" r="1.1"/><circle cx="540.5" cy="448.1" r="1.1"/><circle cx="518.6" cy="470.7" r="1.1"/><circle cx="653.1" cy="435.8" r="1.1"/><circle cx="550.2" cy="448.8" r="1.1"/><circle cx="519.3" cy="464.6" r="1.1"/><circle cx="529.5" cy="450.1" r="1.1"/><circle cx="524.5" cy="456.4" r="1.1"/><circle cx="580.0" cy="420.9" r="1.1"/><circle cx="551.7" cy="433.0" r="1.1"/><circle cx="521.2" cy="457.0" r="1.1"/><circle cx="538.9" cy="460.9" r="1.1"/><circle cx="520.2" cy="456.2" r="1.1"/><circle cx="527.4" cy="446.8" r="1.1"/><circle cx="520.5" cy="460.2" r="1.1"/><circle cx="574.2" cy="408.0" r="1.1"/><circle cx="511.7" cy="468.2" r="1.1"/><circle cx="524.9" cy="473.1" r="1.1"/><circle cx="519.2" cy="463.7" r="1.1"/><circle cx="536.4" cy="442.4" r="1.1"/><circle cx="541.7" cy="443.3" r="1.1"/><circle cx="520.6" cy="459.6" r="1.1"/><circle cx="577.4" cy="436.1" r="1.1"/><circle cx="539.8" cy="440.8" r="1.1"/><circle cx="523.8" cy="468.4" r="1.1"/><circle cx="544.8" cy="430.8" r="1.1"/><circle cx="518.4" cy="471.2" r="1.1"/><circle cx="562.2" cy="449.1" r="1.1"/><circle cx="527.1" cy="454.6" r="1.1"/><circle cx="536.1" cy="460.7" r="1.1"/><circle cx="516.0" cy="464.1" r="1.1"/><circle cx="585.6" cy="462.8" r="1.1"/><circle cx="525.7" cy="454.0" r="1.1"/><circle cx="570.5" cy="400.7" r="1.1"/><circle cx="512.0" cy="466.5" r="1.1"/><circle cx="602.1" cy="399.9" r="1.1"/><circle cx="536.3" cy="447.4" r="1.1"/><circle cx="607.6" cy="389.2" r="1.1"/><circle cx="530.6" cy="457.3" r="1.1"/><circle cx="536.5" cy="456.9" r="1.1"/><circle cx="545.6" cy="460.7" r="1.1"/><circle cx="551.4" cy="426.1" r="1.1"/><circle cx="515.8" cy="466.1" r="1.1"/><circle cx="548.1" cy="448.2" r="1.1"/><circle cx="547.5" cy="436.1" r="1.1"/><circle cx="512.1" cy="470.4" r="1.1"/><circle cx="507.7" cy="468.7" r="1.1"/><circle cx="561.4" cy="450.7" r="1.1"/><circle cx="530.6" cy="439.0" r="1.1"/><circle cx="509.5" cy="479.2" r="1.1"/><circle cx="520.4" cy="463.9" r="1.1"/><circle cx="603.4" cy="421.7" r="1.1"/><circle cx="548.8" cy="436.6" r="1.1"/><circle cx="543.3" cy="443.4" r="1.1"/><circle cx="524.2" cy="465.2" r="1.1"/><circle cx="612.2" cy="370.2" r="1.1"/><circle cx="575.3" cy="414.1" r="1.1"/><circle cx="512.1" cy="459.0" r="1.1"/><circle cx="562.6" cy="442.2" r="1.1"/><circle cx="520.4" cy="457.7" r="1.1"/><circle cx="540.3" cy="459.5" r="1.1"/><circle cx="608.5" cy="371.6" r="1.1"/><circle cx="567.1" cy="421.1" r="1.1"/><circle cx="515.6" cy="474.3" r="1.1"/><circle cx="517.0" cy="471.5" r="1.1"/><circle cx="532.2" cy="466.0" r="1.1"/><circle cx="531.6" cy="448.0" r="1.1"/><circle cx="544.2" cy="430.0" r="1.1"/><circle cx="528.5" cy="456.1" r="1.1"/><circle cx="534.1" cy="449.6" r="1.1"/><circle cx="518.3" cy="461.3" r="1.1"/><circle cx="533.6" cy="466.2" r="1.1"/><circle cx="530.6" cy="439.4" r="1.1"/><circle cx="547.2" cy="440.7" r="1.1"/><circle cx="550.2" cy="436.6" r="1.1"/><circle cx="549.7" cy="441.1" r="1.1"/><circle cx="515.9" cy="466.6" r="1.1"/><circle cx="523.2" cy="457.6" r="1.1"/><circle cx="513.9" cy="463.8" r="1.1"/><circle cx="552.5" cy="424.4" r="1.1"/><circle cx="532.0" cy="445.7" r="1.1"/><circle cx="555.0" cy="469.0" r="1.1"/><circle cx="527.7" cy="447.9" r="1.1"/><circle cx="532.7" cy="442.0" r="1.1"/><circle cx="546.6" cy="464.4" r="1.1"/><circle cx="593.0" cy="411.4" r="1.1"/><circle cx="532.6" cy="435.1" r="1.1"/><circle cx="525.0" cy="452.5" r="1.1"/><circle cx="602.0" cy="385.7" r="1.1"/><circle cx="530.6" cy="466.9" r="1.1"/><circle cx="528.0" cy="441.2" r="1.1"/><circle cx="527.5" cy="439.3" r="1.1"/><circle cx="512.5" cy="471.7" r="1.1"/><circle cx="525.8" cy="448.8" r="1.1"/><circle cx="524.4" cy="453.7" r="1.1"/><circle cx="575.3" cy="432.3" r="1.1"/><circle cx="520.6" cy="472.0" r="1.1"/><circle cx="535.7" cy="470.1" r="1.1"/><circle cx="519.8" cy="464.5" r="1.1"/><circle cx="560.9" cy="441.0" r="1.1"/><circle cx="517.2" cy="449.0" r="1.1"/><circle cx="527.4" cy="453.3" r="1.1"/><circle cx="542.0" cy="466.5" r="1.1"/><circle cx="547.9" cy="441.8" r="1.1"/><circle cx="566.5" cy="419.6" r="1.1"/><circle cx="554.7" cy="423.4" r="1.1"/><circle cx="560.2" cy="442.5" r="1.1"/><circle cx="532.5" cy="451.5" r="1.1"/><circle cx="598.8" cy="429.0" r="1.1"/><circle cx="579.0" cy="392.8" r="1.1"/><circle cx="529.5" cy="471.7" r="1.1"/><circle cx="574.0" cy="420.0" r="1.1"/><circle cx="535.1" cy="441.8" r="1.1"/><circle cx="549.6" cy="457.6" r="1.1"/><circle cx="540.2" cy="436.8" r="1.1"/><circle cx="543.8" cy="431.2" r="1.1"/><circle cx="558.3" cy="433.3" r="1.1"/><circle cx="574.5" cy="438.8" r="1.1"/><circle cx="513.2" cy="474.0" r="1.1"/><circle cx="522.5" cy="458.8" r="1.1"/><circle cx="547.4" cy="463.9" r="1.1"/><circle cx="532.8" cy="446.5" r="1.1"/><circle cx="508.0" cy="470.0" r="1.1"/><circle cx="557.6" cy="446.0" r="1.1"/><circle cx="640.7" cy="352.8" r="1.1"/><circle cx="517.6" cy="473.6" r="1.1"/><circle cx="568.7" cy="413.5" r="1.1"/><circle cx="548.9" cy="467.6" r="1.1"/><circle cx="505.9" cy="479.1" r="1.1"/><circle cx="537.8" cy="447.2" r="1.1"/><circle cx="526.5" cy="452.7" r="1.1"/><circle cx="522.0" cy="475.4" r="1.1"/><circle cx="546.1" cy="446.9" r="1.1"/><circle cx="552.7" cy="423.0" r="1.1"/><circle cx="572.3" cy="440.2" r="1.1"/><circle cx="533.2" cy="443.7" r="1.1"/><circle cx="536.4" cy="441.6" r="1.1"/><circle cx="542.8" cy="464.1" r="1.1"/><circle cx="538.8" cy="482.2" r="1.1"/><circle cx="543.2" cy="419.4" r="1.1"/><circle cx="629.8" cy="385.0" r="1.1"/><circle cx="513.1" cy="468.4" r="1.1"/><circle cx="535.8" cy="458.3" r="1.1"/><circle cx="535.3" cy="445.5" r="1.1"/><circle cx="538.7" cy="447.3" r="1.1"/><circle cx="512.4" cy="466.5" r="1.1"/><circle cx="548.6" cy="461.1" r="1.1"/><circle cx="558.5" cy="413.3" r="1.1"/><circle cx="553.8" cy="432.7" r="1.1"/><circle cx="531.0" cy="436.7" r="1.1"/><circle cx="519.2" cy="468.1" r="1.1"/><circle cx="550.1" cy="430.6" r="1.1"/><circle cx="557.8" cy="425.5" r="1.1"/><circle cx="555.7" cy="417.6" r="1.1"/><circle cx="544.6" cy="457.7" r="1.1"/><circle cx="557.8" cy="427.7" r="1.1"/><circle cx="573.0" cy="426.5" r="1.1"/><circle cx="525.3" cy="447.6" r="1.1"/><circle cx="579.3" cy="381.5" r="1.1"/><circle cx="531.3" cy="450.4" r="1.1"/><circle cx="515.2" cy="470.7" r="1.1"/><circle cx="520.3" cy="467.8" r="1.1"/><circle cx="535.8" cy="440.6" r="1.1"/><circle cx="524.5" cy="453.1" r="1.1"/><circle cx="533.2" cy="448.1" r="1.1"/><circle cx="520.2" cy="452.3" r="1.1"/><circle cx="524.3" cy="463.0" r="1.1"/><circle cx="548.2" cy="430.4" r="1.1"/><circle cx="519.9" cy="455.9" r="1.1"/><circle cx="514.7" cy="468.0" r="1.1"/><circle cx="520.7" cy="472.5" r="1.1"/><circle cx="532.2" cy="459.4" r="1.1"/><circle cx="556.4" cy="423.8" r="1.1"/><circle cx="549.0" cy="428.7" r="1.1"/><circle cx="506.6" cy="472.1" r="1.1"/><circle cx="528.9" cy="455.9" r="1.1"/><circle cx="543.7" cy="442.0" r="1.1"/><circle cx="508.3" cy="474.6" r="1.1"/><circle cx="538.8" cy="445.9" r="1.1"/><circle cx="562.5" cy="421.8" r="1.1"/><circle cx="557.4" cy="421.0" r="1.1"/><circle cx="527.3" cy="469.8" r="1.1"/><circle cx="539.8" cy="482.3" r="1.1"/><circle cx="524.7" cy="446.7" r="1.1"/><circle cx="535.7" cy="451.5" r="1.1"/><circle cx="534.4" cy="449.1" r="1.1"/><circle cx="523.5" cy="453.1" r="1.1"/><circle cx="536.2" cy="441.0" r="1.1"/><circle cx="535.2" cy="449.4" r="1.1"/><circle cx="572.4" cy="410.8" r="1.1"/><circle cx="590.7" cy="400.0" r="1.1"/><circle cx="552.4" cy="450.7" r="1.1"/><circle cx="511.8" cy="460.8" r="1.1"/><circle cx="577.0" cy="405.9" r="1.1"/><circle cx="542.2" cy="464.3" r="1.1"/><circle cx="528.0" cy="453.8" r="1.1"/><circle cx="626.3" cy="384.7" r="1.1"/><circle cx="535.4" cy="440.2" r="1.1"/><circle cx="553.3" cy="432.4" r="1.1"/><circle cx="554.3" cy="427.6" r="1.1"/><circle cx="526.6" cy="457.0" r="1.1"/><circle cx="570.5" cy="412.5" r="1.1"/><circle cx="554.9" cy="437.3" r="1.1"/><circle cx="538.5" cy="461.9" r="1.1"/><circle cx="516.2" cy="461.6" r="1.1"/><circle cx="529.5" cy="454.3" r="1.1"/><circle cx="530.8" cy="441.8" r="1.1"/><circle cx="517.8" cy="467.4" r="1.1"/><circle cx="565.7" cy="415.5" r="1.1"/><circle cx="562.3" cy="416.1" r="1.1"/><circle cx="537.2" cy="469.1" r="1.1"/><circle cx="515.1" cy="458.1" r="1.1"/><circle cx="581.3" cy="403.8" r="1.1"/><circle cx="553.1" cy="441.0" r="1.1"/><circle cx="518.9" cy="466.2" r="1.1"/><circle cx="517.6" cy="461.0" r="1.1"/><circle cx="526.7" cy="459.0" r="1.1"/><circle cx="534.9" cy="450.8" r="1.1"/><circle cx="572.3" cy="436.7" r="1.1"/><circle cx="527.4" cy="461.6" r="1.1"/><circle cx="530.6" cy="466.9" r="1.1"/><circle cx="598.5" cy="382.8" r="1.1"/><circle cx="527.8" cy="454.4" r="1.1"/><circle cx="531.4" cy="460.4" r="1.1"/><circle cx="528.4" cy="441.9" r="1.1"/><circle cx="558.7" cy="429.4" r="1.1"/><circle cx="558.3" cy="428.4" r="1.1"/><circle cx="565.5" cy="468.6" r="1.1"/><circle cx="524.4" cy="457.4" r="1.1"/><circle cx="541.8" cy="434.0" r="1.1"/><circle cx="557.9" cy="443.6" r="1.1"/><circle cx="549.7" cy="436.5" r="1.1"/><circle cx="540.1" cy="450.5" r="1.1"/><circle cx="520.3" cy="467.2" r="1.1"/><circle cx="513.2" cy="466.2" r="1.1"/><circle cx="510.2" cy="465.9" r="1.1"/><circle cx="513.0" cy="480.0" r="1.1"/><circle cx="659.6" cy="347.6" r="1.1"/><circle cx="548.0" cy="437.9" r="1.1"/><circle cx="561.9" cy="434.4" r="1.1"/><circle cx="525.9" cy="459.0" r="1.1"/><circle cx="520.6" cy="455.0" r="1.1"/><circle cx="525.9" cy="445.8" r="1.1"/><circle cx="550.3" cy="432.4" r="1.1"/><circle cx="511.8" cy="473.4" r="1.1"/><circle cx="559.1" cy="426.2" r="1.1"/><circle cx="525.1" cy="461.6" r="1.1"/><circle cx="524.5" cy="474.1" r="1.1"/><circle cx="573.7" cy="428.0" r="1.1"/><circle cx="520.6" cy="474.7" r="1.1"/><circle cx="522.5" cy="450.4" r="1.1"/><circle cx="545.6" cy="463.8" r="1.1"/><circle cx="576.9" cy="443.4" r="1.1"/><circle cx="575.3" cy="408.8" r="1.1"/><circle cx="546.0" cy="434.4" r="1.1"/><circle cx="563.0" cy="428.0" r="1.1"/><circle cx="539.7" cy="439.5" r="1.1"/><circle cx="524.5" cy="448.2" r="1.1"/><circle cx="540.9" cy="439.0" r="1.1"/><circle cx="569.9" cy="438.5" r="1.1"/><circle cx="552.1" cy="443.6" r="1.1"/><circle cx="530.9" cy="460.3" r="1.1"/><circle cx="538.3" cy="440.9" r="1.1"/><circle cx="528.8" cy="457.2" r="1.1"/><circle cx="527.0" cy="452.3" r="1.1"/><circle cx="566.1" cy="435.2" r="1.1"/><circle cx="528.1" cy="446.7" r="1.1"/><circle cx="539.4" cy="435.3" r="1.1"/><circle cx="519.1" cy="472.7" r="1.1"/><circle cx="601.6" cy="398.6" r="1.1"/><circle cx="569.3" cy="444.8" r="1.1"/><circle cx="524.3" cy="472.3" r="1.1"/><circle cx="531.7" cy="455.9" r="1.1"/><circle cx="544.2" cy="441.9" r="1.1"/><circle cx="553.9" cy="468.8" r="1.1"/><circle cx="510.1" cy="462.5" r="1.1"/><circle cx="547.7" cy="445.4" r="1.1"/><circle cx="551.4" cy="426.0" r="1.1"/><circle cx="518.0" cy="458.5" r="1.1"/><circle cx="506.6" cy="473.5" r="1.1"/><circle cx="540.0" cy="460.9" r="1.1"/><circle cx="547.2" cy="442.4" r="1.1"/><circle cx="543.6" cy="436.9" r="1.1"/><circle cx="614.4" cy="432.8" r="1.1"/><circle cx="544.5" cy="449.5" r="1.1"/><circle cx="513.5" cy="458.4" r="1.1"/><circle cx="537.1" cy="436.1" r="1.1"/><circle cx="529.0" cy="448.2" r="1.1"/><circle cx="517.8" cy="459.9" r="1.1"/><circle cx="567.1" cy="412.0" r="1.1"/><circle cx="528.8" cy="453.5" r="1.1"/><circle cx="593.1" cy="379.3" r="1.1"/><circle cx="553.2" cy="427.3" r="1.1"/><circle cx="567.0" cy="417.0" r="1.1"/><circle cx="621.7" cy="363.1" r="1.1"/><circle cx="524.7" cy="450.1" r="1.1"/><circle cx="542.8" cy="445.1" r="1.1"/><circle cx="514.5" cy="470.5" r="1.1"/><circle cx="534.9" cy="466.1" r="1.1"/><circle cx="593.1" cy="397.7" r="1.1"/><circle cx="573.1" cy="423.4" r="1.1"/><circle cx="522.4" cy="478.5" r="1.1"/><circle cx="525.9" cy="454.7" r="1.1"/><circle cx="520.4" cy="459.8" r="1.1"/><circle cx="593.1" cy="388.6" r="1.1"/><circle cx="597.3" cy="460.0" r="1.1"/><circle cx="528.4" cy="443.5" r="1.1"/><circle cx="543.3" cy="441.5" r="1.1"/><circle cx="524.0" cy="473.3" r="1.1"/><circle cx="556.3" cy="446.7" r="1.1"/><circle cx="541.9" cy="460.3" r="1.1"/><circle cx="533.5" cy="443.7" r="1.1"/><circle cx="531.8" cy="450.2" r="1.1"/><circle cx="516.1" cy="462.0" r="1.1"/><circle cx="515.1" cy="464.5" r="1.1"/><circle cx="514.8" cy="462.7" r="1.1"/><circle cx="513.7" cy="465.4" r="1.1"/><circle cx="550.6" cy="441.7" r="1.1"/><circle cx="510.3" cy="465.5" r="1.1"/><circle cx="537.3" cy="444.0" r="1.1"/><circle cx="529.7" cy="453.2" r="1.1"/><circle cx="586.1" cy="401.3" r="1.1"/><circle cx="512.3" cy="470.6" r="1.1"/><circle cx="512.4" cy="462.5" r="1.1"/><circle cx="544.5" cy="464.6" r="1.1"/><circle cx="512.4" cy="460.6" r="1.1"/><circle cx="554.9" cy="442.7" r="1.1"/><circle cx="507.3" cy="468.5" r="1.1"/><circle cx="529.1" cy="447.6" r="1.1"/><circle cx="532.0" cy="469.3" r="1.1"/><circle cx="518.4" cy="459.9" r="1.1"/><circle cx="533.0" cy="446.4" r="1.1"/><circle cx="559.6" cy="416.3" r="1.1"/><circle cx="522.7" cy="458.4" r="1.1"/><circle cx="520.5" cy="479.4" r="1.1"/><circle cx="570.1" cy="421.8" r="1.1"/><circle cx="549.7" cy="437.3" r="1.1"/><circle cx="544.0" cy="444.0" r="1.1"/><circle cx="561.7" cy="453.6" r="1.1"/><circle cx="543.0" cy="436.5" r="1.1"/><circle cx="536.1" cy="441.0" r="1.1"/><circle cx="559.2" cy="445.6" r="1.1"/><circle cx="507.7" cy="476.5" r="1.1"/><circle cx="527.1" cy="463.2" r="1.1"/><circle cx="535.5" cy="447.2" r="1.1"/><circle cx="508.2" cy="471.2" r="1.1"/><circle cx="572.6" cy="408.2" r="1.1"/><circle cx="527.0" cy="448.5" r="1.1"/><circle cx="530.9" cy="463.8" r="1.1"/><circle cx="512.0" cy="467.0" r="1.1"/><circle cx="563.7" cy="445.1" r="1.1"/><circle cx="528.8" cy="448.2" r="1.1"/><circle cx="525.5" cy="447.1" r="1.1"/><circle cx="511.2" cy="458.9" r="1.1"/><circle cx="565.3" cy="416.7" r="1.1"/><circle cx="532.1" cy="473.0" r="1.1"/><circle cx="573.6" cy="404.4" r="1.1"/><circle cx="524.6" cy="451.3" r="1.1"/><circle cx="513.2" cy="472.8" r="1.1"/><circle cx="514.6" cy="469.3" r="1.1"/><circle cx="576.2" cy="409.5" r="1.1"/><circle cx="539.2" cy="466.7" r="1.1"/><circle cx="538.4" cy="445.4" r="1.1"/><circle cx="575.4" cy="407.3" r="1.1"/><circle cx="584.3" cy="413.2" r="1.1"/><circle cx="538.0" cy="451.8" r="1.1"/><circle cx="570.8" cy="416.1" r="1.1"/><circle cx="533.0" cy="445.3" r="1.1"/><circle cx="518.9" cy="463.1" r="1.1"/><circle cx="548.2" cy="457.2" r="1.1"/><circle cx="534.0" cy="469.4" r="1.1"/><circle cx="522.0" cy="463.6" r="1.1"/><circle cx="562.5" cy="429.0" r="1.1"/><circle cx="507.4" cy="466.0" r="1.1"/><circle cx="525.1" cy="451.5" r="1.1"/><circle cx="579.4" cy="385.9" r="1.1"/><circle cx="529.2" cy="453.9" r="1.1"/><circle cx="559.5" cy="432.0" r="1.1"/><circle cx="530.9" cy="464.7" r="1.1"/><circle cx="539.0" cy="439.9" r="1.1"/><circle cx="529.8" cy="443.0" r="1.1"/><circle cx="516.8" cy="457.2" r="1.1"/><circle cx="528.4" cy="451.0" r="1.1"/><circle cx="530.8" cy="436.9" r="1.1"/><circle cx="511.8" cy="478.3" r="1.1"/><circle cx="521.9" cy="459.3" r="1.1"/><circle cx="524.4" cy="452.7" r="1.1"/><circle cx="531.0" cy="442.5" r="1.1"/><circle cx="551.4" cy="447.6" r="1.1"/><circle cx="524.4" cy="472.6" r="1.1"/><circle cx="536.3" cy="445.5" r="1.1"/><circle cx="608.1" cy="425.4" r="1.1"/><circle cx="512.2" cy="458.5" r="1.1"/><circle cx="526.3" cy="458.9" r="1.1"/><circle cx="528.1" cy="446.3" r="1.1"/><circle cx="525.4" cy="453.1" r="1.1"/><circle cx="526.3" cy="450.0" r="1.1"/><circle cx="512.9" cy="459.7" r="1.1"/><circle cx="531.7" cy="451.9" r="1.1"/><circle cx="540.3" cy="440.1" r="1.1"/><circle cx="550.2" cy="442.2" r="1.1"/><circle cx="541.5" cy="466.6" r="1.1"/><circle cx="570.3" cy="412.8" r="1.1"/><circle cx="513.7" cy="469.3" r="1.1"/><circle cx="538.8" cy="453.8" r="1.1"/><circle cx="551.0" cy="462.6" r="1.1"/><circle cx="511.0" cy="465.9" r="1.1"/><circle cx="527.6" cy="454.8" r="1.1"/><circle cx="537.0" cy="444.7" r="1.1"/><circle cx="517.0" cy="457.7" r="1.1"/><circle cx="543.9" cy="444.3" r="1.1"/><circle cx="555.7" cy="422.0" r="1.1"/><circle cx="531.9" cy="463.3" r="1.1"/><circle cx="510.3" cy="480.0" r="1.1"/><circle cx="524.7" cy="452.4" r="1.1"/><circle cx="532.0" cy="458.2" r="1.1"/><circle cx="521.3" cy="471.3" r="1.1"/><circle cx="542.6" cy="482.7" r="1.1"/><circle cx="576.4" cy="411.6" r="1.1"/><circle cx="530.2" cy="454.0" r="1.1"/><circle cx="524.2" cy="465.7" r="1.1"/><circle cx="563.9" cy="432.9" r="1.1"/><circle cx="538.0" cy="438.9" r="1.1"/><circle cx="531.1" cy="446.8" r="1.1"/><circle cx="593.0" cy="407.8" r="1.1"/><circle cx="528.4" cy="443.6" r="1.1"/><circle cx="543.0" cy="436.2" r="1.1"/><circle cx="555.7" cy="423.4" r="1.1"/><circle cx="534.4" cy="452.3" r="1.1"/><circle cx="592.7" cy="375.4" r="1.1"/><circle cx="568.7" cy="410.7" r="1.1"/><circle cx="524.2" cy="453.5" r="1.1"/><circle cx="516.1" cy="455.0" r="1.1"/><circle cx="516.0" cy="461.1" r="1.1"/><circle cx="525.4" cy="458.2" r="1.1"/><circle cx="557.5" cy="476.3" r="1.1"/><circle cx="537.4" cy="446.9" r="1.1"/><circle cx="523.1" cy="471.7" r="1.1"/><circle cx="537.3" cy="445.5" r="1.1"/><circle cx="589.7" cy="398.1" r="1.1"/><circle cx="546.8" cy="420.8" r="1.1"/><circle cx="514.9" cy="466.0" r="1.1"/><circle cx="536.4" cy="481.7" r="1.1"/><circle cx="525.8" cy="456.8" r="1.1"/><circle cx="564.0" cy="451.5" r="1.1"/><circle cx="539.4" cy="444.9" r="1.1"/><circle cx="557.6" cy="424.7" r="1.1"/><circle cx="535.6" cy="446.5" r="1.1"/><circle cx="544.6" cy="434.4" r="1.1"/><circle cx="544.3" cy="442.4" r="1.1"/><circle cx="515.6" cy="469.1" r="1.1"/><circle cx="537.3" cy="437.7" r="1.1"/><circle cx="555.8" cy="432.0" r="1.1"/><circle cx="539.6" cy="431.2" r="1.1"/><circle cx="527.0" cy="448.8" r="1.1"/><circle cx="535.5" cy="438.5" r="1.1"/><circle cx="573.3" cy="414.6" r="1.1"/><circle cx="547.2" cy="435.4" r="1.1"/><circle cx="549.0" cy="415.6" r="1.1"/><circle cx="591.5" cy="401.6" r="1.1"/><circle cx="506.0" cy="469.7" r="1.1"/><circle cx="565.6" cy="416.1" r="1.1"/><circle cx="529.6" cy="456.5" r="1.1"/><circle cx="513.5" cy="468.3" r="1.1"/><circle cx="525.9" cy="450.3" r="1.1"/><circle cx="520.5" cy="461.0" r="1.1"/><circle cx="540.6" cy="437.1" r="1.1"/><circle cx="546.6" cy="441.1" r="1.1"/><circle cx="538.2" cy="456.7" r="1.1"/><circle cx="568.0" cy="472.2" r="1.1"/><circle cx="578.7" cy="406.7" r="1.1"/><circle cx="510.3" cy="460.8" r="1.1"/><circle cx="574.9" cy="442.8" r="1.1"/><circle cx="528.1" cy="444.0" r="1.1"/><circle cx="593.8" cy="377.2" r="1.1"/><circle cx="522.4" cy="461.4" r="1.1"/><circle cx="560.2" cy="472.6" r="1.1"/><circle cx="565.2" cy="451.9" r="1.1"/><circle cx="536.2" cy="469.4" r="1.1"/><circle cx="534.3" cy="440.5" r="1.1"/><circle cx="569.9" cy="428.9" r="1.1"/><circle cx="540.6" cy="442.5" r="1.1"/><circle cx="532.7" cy="454.5" r="1.1"/><circle cx="582.8" cy="403.2" r="1.1"/><circle cx="506.6" cy="471.9" r="1.1"/><circle cx="541.5" cy="452.1" r="1.1"/><circle cx="607.3" cy="373.9" r="1.1"/><circle cx="511.0" cy="461.7" r="1.1"/><circle cx="556.4" cy="428.9" r="1.1"/><circle cx="539.9" cy="438.9" r="1.1"/><circle cx="551.2" cy="452.0" r="1.1"/><circle cx="551.6" cy="437.5" r="1.1"/><circle cx="566.3" cy="461.6" r="1.1"/><circle cx="516.8" cy="458.9" r="1.1"/><circle cx="541.8" cy="437.5" r="1.1"/><circle cx="550.1" cy="453.4" r="1.1"/><circle cx="540.8" cy="444.8" r="1.1"/><circle cx="603.1" cy="420.4" r="1.1"/><circle cx="515.7" cy="462.9" r="1.1"/><circle cx="578.3" cy="419.6" r="1.1"/><circle cx="542.6" cy="448.8" r="1.1"/><circle cx="526.0" cy="440.7" r="1.1"/><circle cx="521.2" cy="467.8" r="1.1"/><circle cx="520.0" cy="466.9" r="1.1"/><circle cx="524.2" cy="457.7" r="1.1"/><circle cx="551.9" cy="444.5" r="1.1"/><circle cx="542.4" cy="439.1" r="1.1"/><circle cx="546.1" cy="445.1" r="1.1"/><circle cx="544.7" cy="442.1" r="1.1"/><circle cx="583.9" cy="395.4" r="1.1"/><circle cx="511.3" cy="472.9" r="1.1"/><circle cx="550.2" cy="434.7" r="1.1"/><circle cx="527.6" cy="457.8" r="1.1"/><circle cx="541.8" cy="465.2" r="1.1"/><circle cx="565.7" cy="408.5" r="1.1"/><circle cx="516.9" cy="461.3" r="1.1"/><circle cx="509.8" cy="483.9" r="1.1"/><circle cx="576.4" cy="427.5" r="1.1"/><circle cx="520.3" cy="459.3" r="1.1"/><circle cx="538.8" cy="443.8" r="1.1"/><circle cx="541.8" cy="474.2" r="1.1"/><circle cx="520.7" cy="479.3" r="1.1"/><circle cx="548.4" cy="430.2" r="1.1"/><circle cx="532.0" cy="465.6" r="1.1"/><circle cx="545.5" cy="437.8" r="1.1"/><circle cx="538.6" cy="437.2" r="1.1"/><circle cx="553.0" cy="452.1" r="1.1"/><circle cx="559.4" cy="440.7" r="1.1"/><circle cx="528.0" cy="460.1" r="1.1"/><circle cx="621.4" cy="416.1" r="1.1"/><circle cx="517.7" cy="475.5" r="1.1"/><circle cx="517.5" cy="451.3" r="1.1"/><circle cx="586.6" cy="409.9" r="1.1"/><circle cx="522.9" cy="456.7" r="1.1"/><circle cx="535.1" cy="442.7" r="1.1"/><circle cx="539.7" cy="446.1" r="1.1"/><circle cx="517.9" cy="471.2" r="1.1"/><circle cx="557.4" cy="420.5" r="1.1"/><circle cx="532.6" cy="438.3" r="1.1"/><circle cx="512.8" cy="459.5" r="1.1"/><circle cx="511.2" cy="460.0" r="1.1"/><circle cx="531.6" cy="448.3" r="1.1"/><circle cx="553.2" cy="457.7" r="1.1"/><circle cx="515.5" cy="454.4" r="1.1"/><circle cx="539.3" cy="479.2" r="1.1"/><circle cx="528.9" cy="452.6" r="1.1"/><circle cx="547.8" cy="452.0" r="1.1"/><circle cx="521.4" cy="454.4" r="1.1"/><circle cx="534.5" cy="445.7" r="1.1"/><circle cx="531.3" cy="461.1" r="1.1"/><circle cx="550.0" cy="443.3" r="1.1"/><circle cx="515.1" cy="465.9" r="1.1"/><circle cx="533.1" cy="448.6" r="1.1"/><circle cx="525.5" cy="455.1" r="1.1"/><circle cx="572.9" cy="412.1" r="1.1"/><circle cx="508.7" cy="477.6" r="1.1"/><circle cx="537.5" cy="453.6" r="1.1"/><circle cx="517.4" cy="466.9" r="1.1"/><circle cx="549.6" cy="448.7" r="1.1"/><circle cx="575.6" cy="404.8" r="1.1"/><circle cx="555.6" cy="430.3" r="1.1"/><circle cx="509.1" cy="471.7" r="1.1"/><circle cx="543.7" cy="443.5" r="1.1"/><circle cx="517.6" cy="469.6" r="1.1"/><circle cx="525.0" cy="460.3" r="1.1"/><circle cx="646.1" cy="343.2" r="1.1"/><circle cx="532.5" cy="463.9" r="1.1"/><circle cx="564.1" cy="433.9" r="1.1"/><circle cx="597.3" cy="426.6" r="1.1"/><circle cx="536.1" cy="452.5" r="1.1"/><circle cx="535.0" cy="446.6" r="1.1"/><circle cx="527.2" cy="459.5" r="1.1"/><circle cx="552.5" cy="435.1" r="1.1"/><circle cx="562.5" cy="425.5" r="1.1"/><circle cx="521.7" cy="453.4" r="1.1"/><circle cx="543.7" cy="476.3" r="1.1"/><circle cx="508.3" cy="466.7" r="1.1"/><circle cx="538.6" cy="448.2" r="1.1"/><circle cx="539.6" cy="439.3" r="1.1"/><circle cx="539.7" cy="432.5" r="1.1"/><circle cx="545.2" cy="454.0" r="1.1"/><circle cx="557.5" cy="463.7" r="1.1"/><circle cx="508.8" cy="471.1" r="1.1"/><circle cx="529.5" cy="451.9" r="1.1"/><circle cx="531.9" cy="463.1" r="1.1"/><circle cx="552.7" cy="461.5" r="1.1"/><circle cx="631.4" cy="358.8" r="1.1"/><circle cx="528.6" cy="447.2" r="1.1"/><circle cx="529.0" cy="475.6" r="1.1"/><circle cx="547.7" cy="448.8" r="1.1"/><circle cx="542.2" cy="460.0" r="1.1"/><circle cx="544.2" cy="476.4" r="1.1"/><circle cx="529.0" cy="455.6" r="1.1"/><circle cx="518.3" cy="457.8" r="1.1"/><circle cx="565.5" cy="413.4" r="1.1"/><circle cx="527.8" cy="449.5" r="1.1"/><circle cx="539.9" cy="430.8" r="1.1"/><circle cx="535.4" cy="455.8" r="1.1"/><circle cx="537.3" cy="436.3" r="1.1"/><circle cx="561.6" cy="452.4" r="1.1"/><circle cx="530.7" cy="434.4" r="1.1"/><circle cx="542.7" cy="451.4" r="1.1"/><circle cx="512.7" cy="457.8" r="1.1"/><circle cx="543.6" cy="427.7" r="1.1"/><circle cx="534.8" cy="455.8" r="1.1"/><circle cx="524.8" cy="446.4" r="1.1"/><circle cx="577.1" cy="417.0" r="1.1"/><circle cx="516.5" cy="468.6" r="1.1"/><circle cx="545.7" cy="458.6" r="1.1"/><circle cx="535.2" cy="470.3" r="1.1"/><circle cx="512.9" cy="481.0" r="1.1"/><circle cx="554.9" cy="423.8" r="1.1"/><circle cx="529.5" cy="474.7" r="1.1"/><circle cx="534.3" cy="449.4" r="1.1"/><circle cx="575.8" cy="444.8" r="1.1"/><circle cx="545.4" cy="451.7" r="1.1"/><circle cx="523.3" cy="464.5" r="1.1"/><circle cx="593.8" cy="389.6" r="1.1"/><circle cx="536.5" cy="443.9" r="1.1"/><circle cx="556.3" cy="421.3" r="1.1"/><circle cx="579.7" cy="393.8" r="1.1"/><circle cx="531.1" cy="465.0" r="1.1"/><circle cx="567.8" cy="422.7" r="1.1"/><circle cx="548.8" cy="441.7" r="1.1"/><circle cx="541.9" cy="439.2" r="1.1"/><circle cx="514.9" cy="465.4" r="1.1"/><circle cx="526.2" cy="452.8" r="1.1"/><circle cx="546.7" cy="465.0" r="1.1"/><circle cx="597.2" cy="397.2" r="1.1"/><circle cx="538.7" cy="448.6" r="1.1"/><circle cx="642.8" cy="345.9" r="1.1"/><circle cx="533.4" cy="448.4" r="1.1"/><circle cx="530.3" cy="456.1" r="1.1"/><circle cx="602.7" cy="392.6" r="1.1"/><circle cx="511.5" cy="471.3" r="1.1"/><circle cx="523.5" cy="455.2" r="1.1"/><circle cx="529.3" cy="452.8" r="1.1"/><circle cx="518.4" cy="466.1" r="1.1"/><circle cx="509.4" cy="460.7" r="1.1"/><circle cx="547.4" cy="462.4" r="1.1"/><circle cx="541.0" cy="438.8" r="1.1"/><circle cx="525.2" cy="458.6" r="1.1"/><circle cx="546.1" cy="456.6" r="1.1"/><circle cx="549.4" cy="437.0" r="1.1"/><circle cx="569.0" cy="410.7" r="1.1"/><circle cx="557.4" cy="417.3" r="1.1"/><circle cx="541.8" cy="430.0" r="1.1"/><circle cx="506.2" cy="474.2" r="1.1"/><circle cx="527.9" cy="445.4" r="1.1"/><circle cx="579.0" cy="425.9" r="1.1"/><circle cx="533.1" cy="440.9" r="1.1"/><circle cx="543.9" cy="440.5" r="1.1"/><circle cx="537.2" cy="454.4" r="1.1"/><circle cx="578.8" cy="438.8" r="1.1"/><circle cx="562.6" cy="432.5" r="1.1"/><circle cx="530.4" cy="450.7" r="1.1"/><circle cx="563.5" cy="428.5" r="1.1"/><circle cx="531.7" cy="455.0" r="1.1"/><circle cx="519.5" cy="460.1" r="1.1"/><circle cx="515.8" cy="472.9" r="1.1"/><circle cx="540.7" cy="467.1" r="1.1"/><circle cx="567.7" cy="417.2" r="1.1"/><circle cx="519.4" cy="454.3" r="1.1"/><circle cx="532.4" cy="449.4" r="1.1"/><circle cx="516.4" cy="474.0" r="1.1"/><circle cx="516.4" cy="451.8" r="1.1"/><circle cx="557.1" cy="423.6" r="1.1"/><circle cx="547.0" cy="445.5" r="1.1"/><circle cx="524.6" cy="445.7" r="1.1"/><circle cx="514.7" cy="459.3" r="1.1"/><circle cx="528.9" cy="442.8" r="1.1"/><circle cx="535.0" cy="444.0" r="1.1"/><circle cx="535.8" cy="443.2" r="1.1"/><circle cx="613.0" cy="379.1" r="1.1"/><circle cx="519.4" cy="463.4" r="1.1"/><circle cx="548.6" cy="429.3" r="1.1"/><circle cx="576.6" cy="406.9" r="1.1"/><circle cx="547.9" cy="445.5" r="1.1"/><circle cx="568.4" cy="427.8" r="1.1"/><circle cx="536.0" cy="451.2" r="1.1"/><circle cx="544.1" cy="450.6" r="1.1"/><circle cx="510.5" cy="469.3" r="1.1"/><circle cx="536.3" cy="471.3" r="1.1"/><circle cx="524.6" cy="455.2" r="1.1"/><circle cx="524.0" cy="452.3" r="1.1"/><circle cx="520.1" cy="459.4" r="1.1"/><circle cx="582.2" cy="440.3" r="1.1"/><circle cx="570.3" cy="419.4" r="1.1"/><circle cx="526.1" cy="454.3" r="1.1"/><circle cx="559.1" cy="461.7" r="1.1"/><circle cx="527.6" cy="451.4" r="1.1"/><circle cx="528.8" cy="441.5" r="1.1"/><circle cx="598.8" cy="421.7" r="1.1"/><circle cx="526.1" cy="476.8" r="1.1"/><circle cx="552.1" cy="432.1" r="1.1"/><circle cx="522.5" cy="453.4" r="1.1"/><circle cx="542.8" cy="447.4" r="1.1"/><circle cx="549.5" cy="426.5" r="1.1"/><circle cx="531.3" cy="444.6" r="1.1"/><circle cx="543.4" cy="446.7" r="1.1"/><circle cx="636.6" cy="442.9" r="1.1"/><circle cx="533.4" cy="466.1" r="1.1"/><circle cx="549.4" cy="429.3" r="1.1"/><circle cx="521.3" cy="458.4" r="1.1"/><circle cx="594.8" cy="398.0" r="1.1"/><circle cx="537.2" cy="445.4" r="1.1"/><circle cx="532.0" cy="445.3" r="1.1"/><circle cx="527.4" cy="451.6" r="1.1"/><circle cx="524.5" cy="459.6" r="1.1"/><circle cx="566.3" cy="434.3" r="1.1"/><circle cx="540.3" cy="440.7" r="1.1"/><circle cx="533.6" cy="448.7" r="1.1"/><circle cx="529.0" cy="474.6" r="1.1"/><circle cx="524.5" cy="448.8" r="1.1"/><circle cx="521.9" cy="456.6" r="1.1"/><circle cx="526.4" cy="460.4" r="1.1"/><circle cx="529.9" cy="468.8" r="1.1"/><circle cx="528.4" cy="472.7" r="1.1"/><circle cx="533.1" cy="435.5" r="1.1"/><circle cx="552.4" cy="459.5" r="1.1"/><circle cx="543.1" cy="438.2" r="1.1"/><circle cx="539.3" cy="436.5" r="1.1"/><circle cx="555.3" cy="466.7" r="1.1"/><circle cx="574.2" cy="404.0" r="1.1"/><circle cx="565.7" cy="421.5" r="1.1"/><circle cx="550.1" cy="449.0" r="1.1"/><circle cx="555.8" cy="428.1" r="1.1"/><circle cx="535.1" cy="442.7" r="1.1"/><circle cx="553.5" cy="438.6" r="1.1"/><circle cx="518.6" cy="460.1" r="1.1"/><circle cx="511.8" cy="461.2" r="1.1"/><circle cx="590.5" cy="388.8" r="1.1"/><circle cx="574.3" cy="417.6" r="1.1"/><circle cx="540.2" cy="454.1" r="1.1"/><circle cx="546.0" cy="419.2" r="1.1"/><circle cx="596.6" cy="389.3" r="1.1"/><circle cx="525.2" cy="454.7" r="1.1"/><circle cx="514.9" cy="460.5" r="1.1"/><circle cx="520.5" cy="466.3" r="1.1"/><circle cx="535.7" cy="470.8" r="1.1"/><circle cx="588.5" cy="409.5" r="1.1"/><circle cx="530.0" cy="444.7" r="1.1"/><circle cx="538.1" cy="475.5" r="1.1"/><circle cx="532.9" cy="450.0" r="1.1"/><circle cx="535.5" cy="453.2" r="1.1"/><circle cx="507.6" cy="470.7" r="1.1"/><circle cx="513.8" cy="457.5" r="1.1"/><circle cx="544.0" cy="438.0" r="1.1"/><circle cx="541.4" cy="446.1" r="1.1"/><circle cx="542.3" cy="429.5" r="1.1"/><circle cx="560.1" cy="420.9" r="1.1"/><circle cx="542.3" cy="429.2" r="1.1"/><circle cx="574.5" cy="437.2" r="1.1"/><circle cx="544.1" cy="432.2" r="1.1"/><circle cx="528.3" cy="456.6" r="1.1"/><circle cx="654.5" cy="341.3" r="1.1"/><circle cx="505.5" cy="467.5" r="1.1"/><circle cx="552.4" cy="427.8" r="1.1"/><circle cx="564.7" cy="453.6" r="1.1"/><circle cx="548.8" cy="439.2" r="1.1"/><circle cx="544.3" cy="438.2" r="1.1"/><circle cx="544.8" cy="431.1" r="1.1"/><circle cx="572.9" cy="420.9" r="1.1"/><circle cx="549.2" cy="463.2" r="1.1"/><circle cx="536.7" cy="438.5" r="1.1"/><circle cx="534.7" cy="440.5" r="1.1"/><circle cx="521.9" cy="479.5" r="1.1"/><circle cx="516.8" cy="458.5" r="1.1"/><circle cx="595.1" cy="416.2" r="1.1"/><circle cx="538.8" cy="448.8" r="1.1"/><circle cx="629.2" cy="344.4" r="1.1"/><circle cx="512.6" cy="479.2" r="1.1"/><circle cx="578.6" cy="446.1" r="1.1"/><circle cx="527.2" cy="455.6" r="1.1"/><circle cx="578.9" cy="405.3" r="1.1"/><circle cx="519.9" cy="454.9" r="1.1"/><circle cx="540.5" cy="451.5" r="1.1"/><circle cx="622.9" cy="411.4" r="1.1"/><circle cx="553.7" cy="432.8" r="1.1"/><circle cx="523.4" cy="461.4" r="1.1"/><circle cx="556.8" cy="442.3" r="1.1"/><circle cx="531.8" cy="464.2" r="1.1"/><circle cx="522.4" cy="465.1" r="1.1"/><circle cx="534.7" cy="442.3" r="1.1"/><circle cx="515.3" cy="457.9" r="1.1"/><circle cx="511.3" cy="464.0" r="1.1"/><circle cx="514.5" cy="470.3" r="1.1"/><circle cx="532.6" cy="461.1" r="1.1"/><circle cx="540.4" cy="462.6" r="1.1"/><circle cx="549.8" cy="445.3" r="1.1"/><circle cx="590.1" cy="406.6" r="1.1"/><circle cx="542.3" cy="453.3" r="1.1"/><circle cx="580.9" cy="411.0" r="1.1"/><circle cx="589.9" cy="392.1" r="1.1"/><circle cx="575.0" cy="413.5" r="1.1"/><circle cx="529.6" cy="447.3" r="1.1"/><circle cx="523.1" cy="464.6" r="1.1"/><circle cx="529.7" cy="453.1" r="1.1"/><circle cx="513.1" cy="469.9" r="1.1"/><circle cx="542.1" cy="435.2" r="1.1"/><circle cx="568.6" cy="447.7" r="1.1"/><circle cx="548.3" cy="438.7" r="1.1"/><circle cx="581.1" cy="470.9" r="1.1"/><circle cx="534.0" cy="452.4" r="1.1"/><circle cx="662.1" cy="342.8" r="1.1"/><circle cx="520.4" cy="473.4" r="1.1"/><circle cx="562.8" cy="439.9" r="1.1"/><circle cx="545.4" cy="439.8" r="1.1"/><circle cx="518.6" cy="464.1" r="1.1"/><circle cx="540.1" cy="428.8" r="1.1"/><circle cx="547.8" cy="449.6" r="1.1"/><circle cx="553.8" cy="426.6" r="1.1"/><circle cx="577.2" cy="419.0" r="1.1"/><circle cx="569.5" cy="422.9" r="1.1"/><circle cx="543.2" cy="438.1" r="1.1"/><circle cx="524.8" cy="453.4" r="1.1"/><circle cx="554.2" cy="446.2" r="1.1"/><circle cx="528.8" cy="449.6" r="1.1"/><circle cx="562.2" cy="441.3" r="1.1"/><circle cx="543.3" cy="444.9" r="1.1"/><circle cx="538.8" cy="444.3" r="1.1"/><circle cx="577.2" cy="426.4" r="1.1"/><circle cx="542.3" cy="444.3" r="1.1"/><circle cx="530.7" cy="443.0" r="1.1"/><circle cx="535.3" cy="487.2" r="1.1"/><circle cx="517.0" cy="461.2" r="1.1"/><circle cx="529.6" cy="462.0" r="1.1"/><circle cx="540.0" cy="465.7" r="1.1"/><circle cx="544.7" cy="455.2" r="1.1"/><circle cx="581.3" cy="443.7" r="1.1"/><circle cx="531.1" cy="453.3" r="1.1"/><circle cx="530.0" cy="442.8" r="1.1"/><circle cx="534.5" cy="454.2" r="1.1"/><circle cx="548.1" cy="429.2" r="1.1"/><circle cx="519.7" cy="443.8" r="1.1"/><circle cx="531.9" cy="464.7" r="1.1"/><circle cx="540.7" cy="443.4" r="1.1"/><circle cx="542.3" cy="435.9" r="1.1"/><circle cx="516.3" cy="469.4" r="1.1"/><circle cx="587.6" cy="438.1" r="1.1"/><circle cx="524.2" cy="464.4" r="1.1"/><circle cx="526.1" cy="474.2" r="1.1"/><circle cx="560.8" cy="455.5" r="1.1"/><circle cx="535.9" cy="459.4" r="1.1"/><circle cx="539.4" cy="447.8" r="1.1"/><circle cx="526.7" cy="450.3" r="1.1"/><circle cx="526.0" cy="455.2" r="1.1"/><circle cx="522.7" cy="456.3" r="1.1"/><circle cx="545.5" cy="437.4" r="1.1"/><circle cx="511.6" cy="473.3" r="1.1"/><circle cx="557.5" cy="435.0" r="1.1"/><circle cx="555.4" cy="436.2" r="1.1"/><circle cx="556.8" cy="430.7" r="1.1"/><circle cx="610.1" cy="385.9" r="1.1"/><circle cx="510.4" cy="478.3" r="1.1"/><circle cx="585.4" cy="418.7" r="1.1"/><circle cx="528.5" cy="458.1" r="1.1"/><circle cx="557.7" cy="429.1" r="1.1"/><circle cx="536.4" cy="438.2" r="1.1"/><circle cx="513.1" cy="467.0" r="1.1"/><circle cx="579.6" cy="434.2" r="1.1"/><circle cx="585.5" cy="422.1" r="1.1"/><circle cx="599.8" cy="415.4" r="1.1"/><circle cx="533.8" cy="449.0" r="1.1"/><circle cx="527.3" cy="441.8" r="1.1"/><circle cx="527.4" cy="468.0" r="1.1"/><circle cx="550.1" cy="461.8" r="1.1"/><circle cx="546.8" cy="452.5" r="1.1"/><circle cx="536.3" cy="450.5" r="1.1"/><circle cx="558.0" cy="436.7" r="1.1"/><circle cx="574.8" cy="408.2" r="1.1"/><circle cx="542.8" cy="446.9" r="1.1"/><circle cx="538.0" cy="440.4" r="1.1"/><circle cx="626.4" cy="360.6" r="1.1"/><circle cx="548.3" cy="430.1" r="1.1"/><circle cx="522.1" cy="461.5" r="1.1"/><circle cx="511.5" cy="465.9" r="1.1"/><circle cx="578.8" cy="408.6" r="1.1"/><circle cx="566.1" cy="422.4" r="1.1"/><circle cx="538.5" cy="441.1" r="1.1"/><circle cx="547.2" cy="427.1" r="1.1"/><circle cx="511.5" cy="466.9" r="1.1"/><circle cx="557.4" cy="427.1" r="1.1"/><circle cx="516.3" cy="451.5" r="1.1"/><circle cx="523.1" cy="445.2" r="1.1"/><circle cx="544.7" cy="450.2" r="1.1"/><circle cx="534.6" cy="439.7" r="1.1"/><circle cx="593.6" cy="407.1" r="1.1"/><circle cx="538.7" cy="455.8" r="1.1"/><circle cx="554.3" cy="426.3" r="1.1"/><circle cx="531.5" cy="472.9" r="1.1"/><circle cx="560.9" cy="421.5" r="1.1"/><circle cx="542.9" cy="430.2" r="1.1"/><circle cx="510.4" cy="459.6" r="1.1"/><circle cx="536.7" cy="438.6" r="1.1"/><circle cx="514.2" cy="464.5" r="1.1"/><circle cx="571.3" cy="416.4" r="1.1"/><circle cx="578.0" cy="422.2" r="1.1"/><circle cx="628.4" cy="366.6" r="1.1"/><circle cx="536.2" cy="454.5" r="1.1"/><circle cx="514.8" cy="474.7" r="1.1"/><circle cx="528.0" cy="446.7" r="1.1"/><circle cx="521.9" cy="471.9" r="1.1"/><circle cx="518.7" cy="454.9" r="1.1"/><circle cx="574.6" cy="408.8" r="1.1"/><circle cx="523.4" cy="478.5" r="1.1"/><circle cx="537.4" cy="450.5" r="1.1"/><circle cx="526.2" cy="456.6" r="1.1"/><circle cx="539.7" cy="467.4" r="1.1"/><circle cx="514.2" cy="461.0" r="1.1"/><circle cx="530.9" cy="444.3" r="1.1"/><circle cx="544.4" cy="482.8" r="1.1"/><circle cx="552.7" cy="433.0" r="1.1"/><circle cx="558.4" cy="441.4" r="1.1"/><circle cx="518.0" cy="462.9" r="1.1"/><circle cx="620.4" cy="412.5" r="1.1"/><circle cx="521.8" cy="453.1" r="1.1"/><circle cx="520.0" cy="447.8" r="1.1"/><circle cx="518.3" cy="466.8" r="1.1"/><circle cx="513.7" cy="464.6" r="1.1"/><circle cx="536.9" cy="432.1" r="1.1"/><circle cx="570.1" cy="431.7" r="1.1"/><circle cx="581.9" cy="461.5" r="1.1"/><circle cx="537.3" cy="443.4" r="1.1"/><circle cx="555.6" cy="440.0" r="1.1"/><circle cx="532.0" cy="443.3" r="1.1"/><circle cx="561.4" cy="426.8" r="1.1"/><circle cx="527.0" cy="455.8" r="1.1"/><circle cx="532.5" cy="442.2" r="1.1"/><circle cx="600.0" cy="399.6" r="1.1"/><circle cx="535.2" cy="442.3" r="1.1"/><circle cx="571.9" cy="420.8" r="1.1"/><circle cx="530.8" cy="446.2" r="1.1"/><circle cx="596.3" cy="391.1" r="1.1"/><circle cx="536.8" cy="445.1" r="1.1"/><circle cx="516.6" cy="459.1" r="1.1"/><circle cx="536.1" cy="440.5" r="1.1"/><circle cx="521.8" cy="454.3" r="1.1"/><circle cx="563.0" cy="419.7" r="1.1"/><circle cx="535.9" cy="448.2" r="1.1"/><circle cx="597.6" cy="400.3" r="1.1"/><circle cx="535.7" cy="443.2" r="1.1"/><circle cx="596.6" cy="426.2" r="1.1"/><circle cx="533.5" cy="468.9" r="1.1"/><circle cx="509.6" cy="470.9" r="1.1"/><circle cx="544.1" cy="459.7" r="1.1"/><circle cx="544.5" cy="435.9" r="1.1"/><circle cx="532.4" cy="468.3" r="1.1"/><circle cx="532.0" cy="451.1" r="1.1"/><circle cx="527.0" cy="472.4" r="1.1"/><circle cx="523.9" cy="460.1" r="1.1"/><circle cx="525.9" cy="460.3" r="1.1"/><circle cx="522.4" cy="471.7" r="1.1"/><circle cx="544.3" cy="439.7" r="1.1"/><circle cx="537.3" cy="446.1" r="1.1"/><circle cx="538.3" cy="445.6" r="1.1"/><circle cx="591.8" cy="377.8" r="1.1"/><circle cx="558.5" cy="426.7" r="1.1"/><circle cx="516.2" cy="456.5" r="1.1"/><circle cx="519.0" cy="454.3" r="1.1"/><circle cx="548.0" cy="444.5" r="1.1"/><circle cx="535.3" cy="457.6" r="1.1"/><circle cx="546.1" cy="475.1" r="1.1"/><circle cx="548.4" cy="434.4" r="1.1"/><circle cx="543.1" cy="464.5" r="1.1"/><circle cx="561.0" cy="420.2" r="1.1"/><circle cx="532.5" cy="465.9" r="1.1"/><circle cx="538.6" cy="461.3" r="1.1"/><circle cx="519.2" cy="469.7" r="1.1"/><circle cx="521.5" cy="477.2" r="1.1"/><circle cx="518.2" cy="472.0" r="1.1"/><circle cx="552.5" cy="459.7" r="1.1"/><circle cx="541.6" cy="459.2" r="1.1"/><circle cx="527.8" cy="456.9" r="1.1"/><circle cx="543.0" cy="426.7" r="1.1"/><circle cx="536.3" cy="447.6" r="1.1"/><circle cx="549.9" cy="443.4" r="1.1"/><circle cx="519.1" cy="474.0" r="1.1"/><circle cx="538.5" cy="425.9" r="1.1"/><circle cx="532.7" cy="447.9" r="1.1"/><circle cx="518.7" cy="455.2" r="1.1"/><circle cx="554.8" cy="415.3" r="1.1"/><circle cx="538.0" cy="445.4" r="1.1"/><circle cx="517.0" cy="466.9" r="1.1"/><circle cx="524.6" cy="450.0" r="1.1"/><circle cx="509.3" cy="481.0" r="1.1"/><circle cx="565.5" cy="438.1" r="1.1"/><circle cx="569.1" cy="449.8" r="1.1"/><circle cx="541.7" cy="442.0" r="1.1"/><circle cx="555.3" cy="461.2" r="1.1"/><circle cx="550.9" cy="428.3" r="1.1"/><circle cx="588.3" cy="399.4" r="1.1"/><circle cx="545.9" cy="455.8" r="1.1"/><circle cx="535.9" cy="464.6" r="1.1"/><circle cx="631.5" cy="410.9" r="1.1"/><circle cx="566.6" cy="422.2" r="1.1"/><circle cx="555.8" cy="415.2" r="1.1"/><circle cx="521.6" cy="452.5" r="1.1"/><circle cx="543.8" cy="452.8" r="1.1"/><circle cx="506.3" cy="475.7" r="1.1"/><circle cx="510.5" cy="459.4" r="1.1"/><circle cx="512.1" cy="461.1" r="1.1"/><circle cx="535.6" cy="463.3" r="1.1"/><circle cx="569.7" cy="431.5" r="1.1"/><circle cx="642.9" cy="375.9" r="1.1"/><circle cx="528.2" cy="454.7" r="1.1"/><circle cx="529.7" cy="465.8" r="1.1"/><circle cx="543.7" cy="465.6" r="1.1"/><circle cx="549.4" cy="433.9" r="1.1"/><circle cx="530.3" cy="443.8" r="1.1"/><circle cx="532.2" cy="447.8" r="1.1"/><circle cx="533.1" cy="428.0" r="1.1"/><circle cx="525.4" cy="457.5" r="1.1"/><circle cx="527.2" cy="452.7" r="1.1"/><circle cx="575.7" cy="391.2" r="1.1"/><circle cx="517.7" cy="447.1" r="1.1"/><circle cx="530.6" cy="453.4" r="1.1"/><circle cx="518.3" cy="464.9" r="1.1"/><circle cx="540.6" cy="452.3" r="1.1"/><circle cx="510.0" cy="465.3" r="1.1"/><circle cx="528.9" cy="443.2" r="1.1"/><circle cx="557.0" cy="430.5" r="1.1"/><circle cx="526.1" cy="453.6" r="1.1"/><circle cx="531.4" cy="447.9" r="1.1"/><circle cx="551.1" cy="429.9" r="1.1"/><circle cx="533.0" cy="469.6" r="1.1"/><circle cx="531.3" cy="451.4" r="1.1"/><circle cx="561.5" cy="428.8" r="1.1"/><circle cx="539.0" cy="454.2" r="1.1"/><circle cx="526.4" cy="441.8" r="1.1"/><circle cx="530.4" cy="456.2" r="1.1"/><circle cx="559.5" cy="437.4" r="1.1"/><circle cx="533.3" cy="447.6" r="1.1"/><circle cx="554.2" cy="426.3" r="1.1"/><circle cx="566.7" cy="419.1" r="1.1"/><circle cx="526.1" cy="444.5" r="1.1"/><circle cx="612.2" cy="433.3" r="1.1"/><circle cx="529.9" cy="449.0" r="1.1"/><circle cx="538.8" cy="438.2" r="1.1"/><circle cx="526.1" cy="450.0" r="1.1"/><circle cx="523.9" cy="450.4" r="1.1"/><circle cx="538.6" cy="438.8" r="1.1"/><circle cx="543.6" cy="435.4" r="1.1"/><circle cx="520.6" cy="463.4" r="1.1"/><circle cx="522.0" cy="457.9" r="1.1"/><circle cx="536.0" cy="452.6" r="1.1"/><circle cx="515.0" cy="476.9" r="1.1"/><circle cx="522.1" cy="461.3" r="1.1"/><circle cx="525.4" cy="449.6" r="1.1"/><circle cx="587.8" cy="422.5" r="1.1"/><circle cx="542.2" cy="442.5" r="1.1"/><circle cx="603.2" cy="397.0" r="1.1"/><circle cx="539.3" cy="480.4" r="1.1"/><circle cx="514.2" cy="466.4" r="1.1"/><circle cx="520.5" cy="450.2" r="1.1"/><circle cx="521.5" cy="469.3" r="1.1"/><circle cx="564.3" cy="423.8" r="1.1"/><circle cx="545.6" cy="431.6" r="1.1"/><circle cx="653.5" cy="357.6" r="1.1"/><circle cx="542.3" cy="440.7" r="1.1"/><circle cx="517.5" cy="474.7" r="1.1"/><circle cx="576.1" cy="414.1" r="1.1"/><circle cx="583.7" cy="398.5" r="1.1"/><circle cx="551.1" cy="441.1" r="1.1"/><circle cx="514.6" cy="469.5" r="1.1"/><circle cx="537.9" cy="443.8" r="1.1"/><circle cx="547.8" cy="429.9" r="1.1"/><circle cx="536.2" cy="443.4" r="1.1"/><circle cx="565.3" cy="428.6" r="1.1"/><circle cx="526.9" cy="473.4" r="1.1"/><circle cx="520.9" cy="453.4" r="1.1"/><circle cx="554.0" cy="466.2" r="1.1"/><circle cx="520.6" cy="456.0" r="1.1"/><circle cx="528.9" cy="471.9" r="1.1"/><circle cx="543.7" cy="444.8" r="1.1"/><circle cx="582.5" cy="436.5" r="1.1"/><circle cx="528.3" cy="447.9" r="1.1"/><circle cx="545.1" cy="474.3" r="1.1"/><circle cx="521.6" cy="479.3" r="1.1"/><circle cx="517.7" cy="460.3" r="1.1"/><circle cx="543.4" cy="436.4" r="1.1"/><circle cx="517.9" cy="464.1" r="1.1"/><circle cx="560.4" cy="426.3" r="1.1"/><circle cx="535.2" cy="440.5" r="1.1"/><circle cx="524.8" cy="446.9" r="1.1"/><circle cx="552.1" cy="440.3" r="1.1"/><circle cx="544.2" cy="464.2" r="1.1"/><circle cx="574.0" cy="412.0" r="1.1"/><circle cx="578.4" cy="419.4" r="1.1"/><circle cx="559.2" cy="425.7" r="1.1"/><circle cx="530.9" cy="457.7" r="1.1"/><circle cx="523.4" cy="467.7" r="1.1"/><circle cx="524.6" cy="459.1" r="1.1"/><circle cx="528.6" cy="453.7" r="1.1"/><circle cx="559.8" cy="456.5" r="1.1"/><circle cx="554.6" cy="429.6" r="1.1"/><circle cx="520.8" cy="457.7" r="1.1"/><circle cx="529.9" cy="445.0" r="1.1"/><circle cx="544.0" cy="433.0" r="1.1"/><circle cx="548.1" cy="442.8" r="1.1"/><circle cx="542.1" cy="429.2" r="1.1"/><circle cx="651.8" cy="413.3" r="1.1"/><circle cx="551.3" cy="450.7" r="1.1"/><circle cx="540.0" cy="441.0" r="1.1"/><circle cx="514.3" cy="462.0" r="1.1"/><circle cx="514.7" cy="458.7" r="1.1"/><circle cx="640.6" cy="365.0" r="1.1"/><circle cx="549.1" cy="439.8" r="1.1"/><circle cx="520.6" cy="453.9" r="1.1"/><circle cx="514.9" cy="465.2" r="1.1"/><circle cx="523.2" cy="461.3" r="1.1"/><circle cx="527.0" cy="445.4" r="1.1"/><circle cx="515.2" cy="476.1" r="1.1"/><circle cx="546.8" cy="442.2" r="1.1"/><circle cx="548.9" cy="433.9" r="1.1"/><circle cx="555.8" cy="447.7" r="1.1"/><circle cx="517.2" cy="470.1" r="1.1"/><circle cx="517.9" cy="459.8" r="1.1"/><circle cx="513.8" cy="464.0" r="1.1"/><circle cx="541.1" cy="440.5" r="1.1"/><circle cx="527.3" cy="455.5" r="1.1"/><circle cx="517.0" cy="455.9" r="1.1"/><circle cx="530.9" cy="468.8" r="1.1"/><circle cx="517.1" cy="457.9" r="1.1"/><circle cx="533.0" cy="448.4" r="1.1"/><circle cx="517.4" cy="463.6" r="1.1"/><circle cx="538.2" cy="444.2" r="1.1"/><circle cx="532.0" cy="466.1" r="1.1"/><circle cx="520.2" cy="460.8" r="1.1"/><circle cx="532.2" cy="437.9" r="1.1"/><circle cx="558.9" cy="430.4" r="1.1"/><circle cx="541.3" cy="442.7" r="1.1"/><circle cx="555.2" cy="454.9" r="1.1"/><circle cx="513.9" cy="460.0" r="1.1"/><circle cx="560.3" cy="428.9" r="1.1"/><circle cx="540.7" cy="459.4" r="1.1"/><circle cx="588.6" cy="410.8" r="1.1"/><circle cx="545.1" cy="442.9" r="1.1"/><circle cx="542.3" cy="457.1" r="1.1"/><circle cx="554.5" cy="474.0" r="1.1"/><circle cx="530.5" cy="440.8" r="1.1"/><circle cx="540.5" cy="465.5" r="1.1"/><circle cx="614.3" cy="381.3" r="1.1"/><circle cx="615.2" cy="378.4" r="1.1"/><circle cx="533.6" cy="451.1" r="1.1"/><circle cx="557.7" cy="448.3" r="1.1"/><circle cx="549.9" cy="447.6" r="1.1"/><circle cx="529.1" cy="452.1" r="1.1"/><circle cx="535.5" cy="436.9" r="1.1"/><circle cx="526.9" cy="459.5" r="1.1"/><circle cx="549.5" cy="455.5" r="1.1"/><circle cx="543.7" cy="439.1" r="1.1"/><circle cx="528.5" cy="448.6" r="1.1"/><circle cx="556.1" cy="429.7" r="1.1"/><circle cx="528.8" cy="469.0" r="1.1"/><circle cx="636.9" cy="376.1" r="1.1"/><circle cx="508.6" cy="473.2" r="1.1"/><circle cx="550.4" cy="443.1" r="1.1"/><circle cx="523.0" cy="466.2" r="1.1"/><circle cx="517.3" cy="468.7" r="1.1"/><circle cx="543.0" cy="487.1" r="1.1"/><circle cx="526.1" cy="462.3" r="1.1"/><circle cx="587.2" cy="413.0" r="1.1"/><circle cx="582.9" cy="423.4" r="1.1"/><circle cx="548.5" cy="434.7" r="1.1"/><circle cx="534.6" cy="446.7" r="1.1"/><circle cx="524.4" cy="450.2" r="1.1"/><circle cx="546.3" cy="451.1" r="1.1"/><circle cx="508.0" cy="464.9" r="1.1"/><circle cx="535.5" cy="469.1" r="1.1"/><circle cx="543.9" cy="456.9" r="1.1"/><circle cx="527.5" cy="468.3" r="1.1"/><circle cx="521.3" cy="465.3" r="1.1"/><circle cx="530.7" cy="457.5" r="1.1"/><circle cx="561.5" cy="417.0" r="1.1"/><circle cx="534.4" cy="442.8" r="1.1"/><circle cx="578.0" cy="399.1" r="1.1"/><circle cx="563.6" cy="412.8" r="1.1"/><circle cx="553.7" cy="432.4" r="1.1"/><circle cx="536.4" cy="460.5" r="1.1"/><circle cx="583.2" cy="407.9" r="1.1"/><circle cx="520.5" cy="463.3" r="1.1"/><circle cx="573.5" cy="409.3" r="1.1"/><circle cx="538.1" cy="441.0" r="1.1"/><circle cx="517.1" cy="472.0" r="1.1"/><circle cx="584.0" cy="423.7" r="1.1"/><circle cx="511.2" cy="462.2" r="1.1"/><circle cx="541.4" cy="443.4" r="1.1"/><circle cx="523.3" cy="464.8" r="1.1"/><circle cx="566.9" cy="436.3" r="1.1"/><circle cx="521.1" cy="457.6" r="1.1"/><circle cx="533.2" cy="468.6" r="1.1"/><circle cx="584.8" cy="403.3" r="1.1"/><circle cx="540.8" cy="434.2" r="1.1"/><circle cx="517.8" cy="464.9" r="1.1"/><circle cx="519.8" cy="451.0" r="1.1"/><circle cx="557.0" cy="426.2" r="1.1"/><circle cx="519.0" cy="463.8" r="1.1"/><circle cx="528.9" cy="449.3" r="1.1"/><circle cx="551.1" cy="436.0" r="1.1"/><circle cx="539.2" cy="441.9" r="1.1"/><circle cx="517.7" cy="472.0" r="1.1"/><circle cx="524.6" cy="449.4" r="1.1"/><circle cx="520.2" cy="476.6" r="1.1"/><circle cx="589.2" cy="392.3" r="1.1"/><circle cx="550.2" cy="414.2" r="1.1"/><circle cx="536.0" cy="452.3" r="1.1"/><circle cx="525.9" cy="446.1" r="1.1"/><circle cx="549.2" cy="434.1" r="1.1"/><circle cx="577.5" cy="433.0" r="1.1"/><circle cx="523.7" cy="462.2" r="1.1"/><circle cx="549.1" cy="431.0" r="1.1"/><circle cx="515.1" cy="458.1" r="1.1"/><circle cx="528.2" cy="452.3" r="1.1"/><circle cx="519.8" cy="467.3" r="1.1"/><circle cx="523.6" cy="455.2" r="1.1"/><circle cx="536.7" cy="440.0" r="1.1"/><circle cx="528.5" cy="444.1" r="1.1"/><circle cx="542.8" cy="433.3" r="1.1"/><circle cx="520.7" cy="472.9" r="1.1"/><circle cx="523.4" cy="460.3" r="1.1"/><circle cx="524.4" cy="452.7" r="1.1"/><circle cx="526.7" cy="455.2" r="1.1"/><circle cx="515.4" cy="465.4" r="1.1"/><circle cx="518.6" cy="451.0" r="1.1"/><circle cx="511.6" cy="476.8" r="1.1"/><circle cx="614.8" cy="355.1" r="1.1"/><circle cx="588.4" cy="398.8" r="1.1"/><circle cx="526.6" cy="454.4" r="1.1"/><circle cx="590.3" cy="414.5" r="1.1"/><circle cx="576.5" cy="439.9" r="1.1"/><circle cx="537.9" cy="475.3" r="1.1"/><circle cx="517.8" cy="468.9" r="1.1"/><circle cx="551.3" cy="457.1" r="1.1"/><circle cx="514.1" cy="465.9" r="1.1"/><circle cx="513.8" cy="478.2" r="1.1"/><circle cx="595.4" cy="429.4" r="1.1"/><circle cx="518.9" cy="455.1" r="1.1"/><circle cx="522.1" cy="449.5" r="1.1"/><circle cx="525.4" cy="454.6" r="1.1"/><circle cx="519.9" cy="454.7" r="1.1"/><circle cx="528.6" cy="472.3" r="1.1"/><circle cx="534.6" cy="441.6" r="1.1"/><circle cx="545.3" cy="427.9" r="1.1"/><circle cx="531.4" cy="435.7" r="1.1"/><circle cx="548.8" cy="448.3" r="1.1"/><circle cx="585.5" cy="408.4" r="1.1"/><circle cx="529.9" cy="472.1" r="1.1"/><circle cx="544.1" cy="434.3" r="1.1"/><circle cx="544.4" cy="443.1" r="1.1"/><circle cx="515.0" cy="458.5" r="1.1"/><circle cx="601.9" cy="391.0" r="1.1"/><circle cx="538.6" cy="445.2" r="1.1"/><circle cx="529.6" cy="462.2" r="1.1"/><circle cx="532.7" cy="467.0" r="1.1"/><circle cx="517.4" cy="462.8" r="1.1"/><circle cx="603.7" cy="375.4" r="1.1"/><circle cx="640.3" cy="364.0" r="1.1"/><circle cx="544.2" cy="439.3" r="1.1"/><circle cx="519.5" cy="457.0" r="1.1"/><circle cx="549.3" cy="462.8" r="1.1"/><circle cx="528.5" cy="451.9" r="1.1"/><circle cx="517.4" cy="463.7" r="1.1"/><circle cx="534.5" cy="435.4" r="1.1"/><circle cx="536.3" cy="462.0" r="1.1"/><circle cx="569.1" cy="403.7" r="1.1"/><circle cx="523.4" cy="459.3" r="1.1"/><circle cx="544.9" cy="439.4" r="1.1"/><circle cx="550.4" cy="427.9" r="1.1"/><circle cx="512.0" cy="469.3" r="1.1"/><circle cx="570.1" cy="427.6" r="1.1"/><circle cx="536.7" cy="446.8" r="1.1"/><circle cx="526.7" cy="447.9" r="1.1"/><circle cx="539.8" cy="445.2" r="1.1"/><circle cx="509.5" cy="479.8" r="1.1"/><circle cx="556.6" cy="413.2" r="1.1"/><circle cx="523.0" cy="447.2" r="1.1"/><circle cx="515.6" cy="461.8" r="1.1"/><circle cx="543.2" cy="436.5" r="1.1"/><circle cx="594.8" cy="417.9" r="1.1"/><circle cx="533.3" cy="465.3" r="1.1"/><circle cx="510.7" cy="473.3" r="1.1"/><circle cx="521.7" cy="461.1" r="1.1"/><circle cx="529.5" cy="447.3" r="1.1"/><circle cx="652.7" cy="401.6" r="1.1"/><circle cx="543.4" cy="440.1" r="1.1"/><circle cx="553.0" cy="419.0" r="1.1"/><circle cx="557.9" cy="430.2" r="1.1"/><circle cx="562.7" cy="447.6" r="1.1"/><circle cx="587.3" cy="396.4" r="1.1"/><circle cx="513.2" cy="457.7" r="1.1"/><circle cx="523.2" cy="459.0" r="1.1"/><circle cx="522.1" cy="459.9" r="1.1"/><circle cx="521.7" cy="478.7" r="1.1"/><circle cx="638.8" cy="391.1" r="1.1"/><circle cx="542.1" cy="436.4" r="1.1"/><circle cx="535.4" cy="453.2" r="1.1"/><circle cx="527.8" cy="450.6" r="1.1"/><circle cx="565.1" cy="446.6" r="1.1"/><circle cx="533.6" cy="441.3" r="1.1"/><circle cx="514.5" cy="460.1" r="1.1"/><circle cx="561.3" cy="425.0" r="1.1"/><circle cx="510.4" cy="468.8" r="1.1"/><circle cx="517.7" cy="474.6" r="1.1"/><circle cx="529.6" cy="456.3" r="1.1"/><circle cx="564.5" cy="419.3" r="1.1"/><circle cx="524.3" cy="456.0" r="1.1"/><circle cx="554.7" cy="434.5" r="1.1"/><circle cx="531.7" cy="450.7" r="1.1"/><circle cx="540.0" cy="447.3" r="1.1"/><circle cx="545.3" cy="437.1" r="1.1"/><circle cx="552.2" cy="424.9" r="1.1"/><circle cx="551.1" cy="459.8" r="1.1"/><circle cx="565.7" cy="410.8" r="1.1"/><circle cx="527.8" cy="462.0" r="1.1"/><circle cx="521.2" cy="454.3" r="1.1"/><circle cx="558.3" cy="424.8" r="1.1"/><circle cx="532.1" cy="452.7" r="1.1"/><circle cx="632.0" cy="402.6" r="1.1"/><circle cx="536.3" cy="445.6" r="1.1"/><circle cx="509.6" cy="467.1" r="1.1"/><circle cx="513.9" cy="467.3" r="1.1"/><circle cx="527.7" cy="473.2" r="1.1"/><circle cx="537.0" cy="469.9" r="1.1"/><circle cx="535.3" cy="441.9" r="1.1"/><circle cx="557.1" cy="422.4" r="1.1"/><circle cx="547.8" cy="438.6" r="1.1"/><circle cx="533.5" cy="445.4" r="1.1"/><circle cx="542.3" cy="443.7" r="1.1"/><circle cx="539.9" cy="449.4" r="1.1"/><circle cx="553.7" cy="428.9" r="1.1"/><circle cx="530.9" cy="449.2" r="1.1"/><circle cx="526.6" cy="454.1" r="1.1"/><circle cx="563.2" cy="426.0" r="1.1"/><circle cx="577.2" cy="430.2" r="1.1"/><circle cx="526.2" cy="456.7" r="1.1"/><circle cx="528.6" cy="439.2" r="1.1"/><circle cx="532.2" cy="450.5" r="1.1"/><circle cx="522.3" cy="463.0" r="1.1"/><circle cx="526.5" cy="460.4" r="1.1"/><circle cx="533.1" cy="455.3" r="1.1"/><circle cx="518.3" cy="465.8" r="1.1"/><circle cx="579.0" cy="443.9" r="1.1"/><circle cx="532.4" cy="450.3" r="1.1"/><circle cx="510.7" cy="457.8" r="1.1"/><circle cx="514.5" cy="463.1" r="1.1"/><circle cx="533.1" cy="434.0" r="1.1"/><circle cx="539.3" cy="440.6" r="1.1"/><circle cx="535.9" cy="482.4" r="1.1"/><circle cx="529.5" cy="444.3" r="1.1"/><circle cx="520.5" cy="468.2" r="1.1"/><circle cx="523.9" cy="451.8" r="1.1"/><circle cx="644.4" cy="346.6" r="1.1"/><circle cx="523.6" cy="475.7" r="1.1"/><circle cx="506.8" cy="470.1" r="1.1"/><circle cx="557.5" cy="433.7" r="1.1"/><circle cx="538.2" cy="482.1" r="1.1"/><circle cx="529.2" cy="452.8" r="1.1"/><circle cx="554.9" cy="425.6" r="1.1"/><circle cx="570.6" cy="416.3" r="1.1"/><circle cx="545.7" cy="435.5" r="1.1"/><circle cx="510.2" cy="462.7" r="1.1"/><circle cx="526.2" cy="448.5" r="1.1"/><circle cx="527.7" cy="452.2" r="1.1"/><circle cx="575.1" cy="416.6" r="1.1"/><circle cx="536.0" cy="455.0" r="1.1"/><circle cx="551.5" cy="431.6" r="1.1"/><circle cx="519.8" cy="462.2" r="1.1"/><circle cx="560.2" cy="423.8" r="1.1"/><circle cx="531.0" cy="459.5" r="1.1"/><circle cx="557.5" cy="426.7" r="1.1"/><circle cx="505.2" cy="480.3" r="1.1"/><circle cx="554.0" cy="423.8" r="1.1"/><circle cx="560.9" cy="456.6" r="1.1"/><circle cx="531.5" cy="456.8" r="1.1"/><circle cx="529.9" cy="453.2" r="1.1"/><circle cx="559.9" cy="417.1" r="1.1"/><circle cx="507.5" cy="469.6" r="1.1"/><circle cx="562.0" cy="427.6" r="1.1"/><circle cx="556.9" cy="430.9" r="1.1"/><circle cx="556.9" cy="425.5" r="1.1"/><circle cx="519.2" cy="458.5" r="1.1"/><circle cx="514.9" cy="457.9" r="1.1"/><circle cx="536.4" cy="438.5" r="1.1"/><circle cx="526.9" cy="461.4" r="1.1"/><circle cx="547.0" cy="449.2" r="1.1"/><circle cx="532.6" cy="470.5" r="1.1"/><circle cx="521.9" cy="460.5" r="1.1"/><circle cx="551.5" cy="435.8" r="1.1"/><circle cx="514.1" cy="472.3" r="1.1"/><circle cx="554.4" cy="429.0" r="1.1"/><circle cx="544.0" cy="467.3" r="1.1"/><circle cx="574.7" cy="410.6" r="1.1"/><circle cx="552.2" cy="447.5" r="1.1"/><circle cx="511.5" cy="456.9" r="1.1"/><circle cx="540.5" cy="461.9" r="1.1"/><circle cx="537.5" cy="432.9" r="1.1"/><circle cx="566.2" cy="424.5" r="1.1"/><circle cx="536.4" cy="449.0" r="1.1"/><circle cx="554.1" cy="432.8" r="1.1"/><circle cx="546.3" cy="437.9" r="1.1"/><circle cx="549.2" cy="431.9" r="1.1"/><circle cx="603.0" cy="371.8" r="1.1"/></g>
<path d="M489.8,479.6 L656.3,326.2" stroke="#000" stroke-width="2.3" stroke-dasharray="7.0 9.8" fill="none"/>
<path d="M493.6,495.4 L675.6,383.1" stroke="#0000CC" stroke-width="2.3" stroke-dasharray="7.0 9.8" stroke-dashoffset="4.4" fill="none"/>
<circle cx="675.3" cy="383.3" r="1.2" fill="#0000CC"/>
<path d="M489.7,324.6 V495.2 H676.6" fill="none" stroke="#000" stroke-width="1.2"/>
<path d="M487.0,491.00 H489.7" stroke="#000" stroke-width="1"/>
<text x="474.28" y="496.40" font-size="15.8" textLength="9.03" lengthAdjust="spacingAndGlyphs" fill="#000" stroke="#000" stroke-width="0.34">2</text>
<path d="M487.0,446.70 H489.7" stroke="#000" stroke-width="1"/>
<text x="474.44" y="453.40" font-size="15.8" textLength="8.83" lengthAdjust="spacingAndGlyphs" fill="#000" stroke="#000" stroke-width="0.34">4</text>
<path d="M487.0,402.90 H489.7" stroke="#000" stroke-width="1"/>
<text x="474.01" y="411.20" font-size="15.8" textLength="9.76" lengthAdjust="spacingAndGlyphs" fill="#000" stroke="#000" stroke-width="0.34">6</text>
<path d="M487.0,359.40 H489.7" stroke="#000" stroke-width="1"/>
<text x="474.21" y="367.20" font-size="15.8" textLength="8.77" lengthAdjust="spacingAndGlyphs" fill="#000" stroke="#000" stroke-width="0.34">8</text>
<path d="M524.90,495.3 V498.4" stroke="#000" stroke-width="1"/>
<text x="520.32" y="517.50" font-size="15.8" textLength="9.27" lengthAdjust="spacingAndGlyphs" fill="#000" stroke="#000" stroke-width="0.34">4</text>
<path d="M572.50,495.3 V498.4" stroke="#000" stroke-width="1"/>
<text x="566.19" y="517.50" font-size="15.8" textLength="10.00" lengthAdjust="spacingAndGlyphs" fill="#000" stroke="#000" stroke-width="0.34">6</text>
<path d="M620.00,495.3 V498.4" stroke="#000" stroke-width="1"/>
<text x="615.38" y="517.50" font-size="15.8" textLength="9.24" lengthAdjust="spacingAndGlyphs" fill="#000" stroke="#000" stroke-width="0.34">8</text>
<path d="M667.50,495.3 V498.4" stroke="#000" stroke-width="1"/>
<text x="657.77" y="517.50" font-size="15.8" textLength="17.96" lengthAdjust="spacingAndGlyphs" fill="#000" stroke="#000" stroke-width="0.34">10</text>
<text x="627.02" y="314.50" font-size="20.64" textLength="28.90" lengthAdjust="spacingAndGlyphs" fill="#000" stroke="#000" stroke-width="0.34">1:1</text>
<text x="651.54" y="371.80" font-size="20.77" textLength="29.29" lengthAdjust="spacingAndGlyphs" fill="#0000CC" stroke="#0000CC" stroke-width="0.34">2:3</text>
<text x="508.75" y="540.60" font-size="15.6" textLength="162.42" lengthAdjust="spacingAndGlyphs" fill="#000" stroke="#000" stroke-width="0.34">Total expression (TPM)</text>
<text x="497.97" y="561.70" font-size="15.6" textLength="184.65" lengthAdjust="spacingAndGlyphs" fill="#000" stroke="#000" stroke-width="0.34">All homoeologs expressed</text>
<text transform="translate(439.00,510.35) rotate(-90)" x="0" y="0" font-size="16.0" textLength="162.42" lengthAdjust="spacingAndGlyphs" fill="#000" stroke="#000" stroke-width="0.34">Total expression (TPM)</text>
<text transform="translate(459.60,540.86) rotate(-90)" x="0" y="0" font-size="16.2" textLength="224.10" lengthAdjust="spacingAndGlyphs" fill="#000" stroke="#000" stroke-width="0.34">One homoeolog downregulated</text>
</svg>
</body></html>
